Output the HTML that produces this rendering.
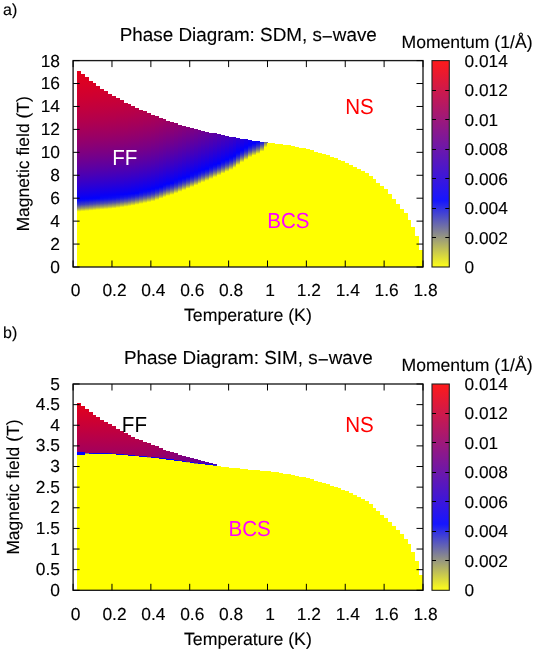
<!DOCTYPE html>
<html><head><meta charset="utf-8"><title>Phase Diagrams</title>
<style>
html,body{margin:0;padding:0;background:#fff;}
.t text{stroke:#000;stroke-width:0.12px;}
svg{display:block;font-family:"Liberation Sans",sans-serif;text-rendering:geometricPrecision;will-change:transform;}
</style></head><body>
<svg width="535" height="654" viewBox="0 0 535 654">
<rect width="535" height="654" fill="#fff"/>
<defs><linearGradient id="cbg" x1="0" y1="1" x2="0" y2="0"><stop offset="0" stop-color="#ffff18"/><stop offset="0.3214" stop-color="#1616ff"/><stop offset="1" stop-color="#ff1a1a"/></linearGradient><linearGradient id="a1" x1="0" y1="0" x2="0" y2="1"><stop offset="0.000" stop-color="#e5001a"/><stop offset="0.048" stop-color="#e0001f"/><stop offset="0.095" stop-color="#da0025"/><stop offset="0.143" stop-color="#d4002b"/><stop offset="0.190" stop-color="#ce0031"/><stop offset="0.238" stop-color="#c70038"/><stop offset="0.286" stop-color="#bf0040"/><stop offset="0.333" stop-color="#b70048"/><stop offset="0.381" stop-color="#ae0051"/><stop offset="0.429" stop-color="#a5005a"/><stop offset="0.476" stop-color="#9a0065"/><stop offset="0.524" stop-color="#8f0070"/><stop offset="0.571" stop-color="#82007d"/><stop offset="0.619" stop-color="#75008a"/><stop offset="0.667" stop-color="#660099"/><stop offset="0.714" stop-color="#5600a9"/><stop offset="0.762" stop-color="#4500ba"/><stop offset="0.810" stop-color="#3200cd"/><stop offset="0.840" stop-color="#2500da"/><stop offset="0.857" stop-color="#1d00e2"/><stop offset="0.880" stop-color="#1300ec"/><stop offset="0.905" stop-color="#0700f8"/><stop offset="0.920" stop-color="#0707f8"/><stop offset="0.950" stop-color="#3b3bc4"/><stop offset="0.952" stop-color="#4141be"/><stop offset="0.980" stop-color="#a0a05f"/><stop offset="1.000" stop-color="#ffff00"/></linearGradient><linearGradient id="a2" x1="0" y1="0" x2="0" y2="1"><stop offset="0.000" stop-color="#e2001d"/><stop offset="0.048" stop-color="#dd0022"/><stop offset="0.095" stop-color="#d70028"/><stop offset="0.143" stop-color="#d1002e"/><stop offset="0.190" stop-color="#cb0034"/><stop offset="0.238" stop-color="#c4003b"/><stop offset="0.286" stop-color="#bc0043"/><stop offset="0.333" stop-color="#b4004b"/><stop offset="0.381" stop-color="#ab0054"/><stop offset="0.429" stop-color="#a1005e"/><stop offset="0.476" stop-color="#970068"/><stop offset="0.524" stop-color="#8b0074"/><stop offset="0.571" stop-color="#7f0080"/><stop offset="0.619" stop-color="#71008e"/><stop offset="0.667" stop-color="#63009c"/><stop offset="0.714" stop-color="#5300ac"/><stop offset="0.762" stop-color="#4200bd"/><stop offset="0.810" stop-color="#2f00d0"/><stop offset="0.840" stop-color="#2300dc"/><stop offset="0.857" stop-color="#1b00e4"/><stop offset="0.880" stop-color="#1100ee"/><stop offset="0.905" stop-color="#0500fa"/><stop offset="0.920" stop-color="#0909f6"/><stop offset="0.950" stop-color="#3e3ec1"/><stop offset="0.952" stop-color="#4545ba"/><stop offset="0.980" stop-color="#a2a25d"/><stop offset="1.000" stop-color="#ffff00"/></linearGradient><linearGradient id="a3" x1="0" y1="0" x2="0" y2="1"><stop offset="0.000" stop-color="#df0020"/><stop offset="0.048" stop-color="#da0025"/><stop offset="0.095" stop-color="#d4002b"/><stop offset="0.143" stop-color="#ce0031"/><stop offset="0.190" stop-color="#c80037"/><stop offset="0.238" stop-color="#c1003e"/><stop offset="0.286" stop-color="#b90046"/><stop offset="0.333" stop-color="#b1004e"/><stop offset="0.381" stop-color="#a80057"/><stop offset="0.429" stop-color="#9e0061"/><stop offset="0.476" stop-color="#93006c"/><stop offset="0.524" stop-color="#880077"/><stop offset="0.571" stop-color="#7c0083"/><stop offset="0.619" stop-color="#6f0090"/><stop offset="0.667" stop-color="#60009f"/><stop offset="0.714" stop-color="#5100ae"/><stop offset="0.762" stop-color="#4000bf"/><stop offset="0.810" stop-color="#2d00d2"/><stop offset="0.840" stop-color="#2100de"/><stop offset="0.857" stop-color="#1a00e5"/><stop offset="0.880" stop-color="#1000ef"/><stop offset="0.905" stop-color="#0400fb"/><stop offset="0.920" stop-color="#0b0bf4"/><stop offset="0.950" stop-color="#4242bd"/><stop offset="0.952" stop-color="#4848b7"/><stop offset="0.980" stop-color="#a4a45b"/><stop offset="1.000" stop-color="#ffff00"/></linearGradient><linearGradient id="a4" x1="0" y1="0" x2="0" y2="1"><stop offset="0.000" stop-color="#dc0023"/><stop offset="0.048" stop-color="#d70028"/><stop offset="0.095" stop-color="#d1002e"/><stop offset="0.143" stop-color="#cb0034"/><stop offset="0.190" stop-color="#c4003b"/><stop offset="0.238" stop-color="#bd0042"/><stop offset="0.286" stop-color="#b5004a"/><stop offset="0.333" stop-color="#ad0052"/><stop offset="0.381" stop-color="#a4005b"/><stop offset="0.429" stop-color="#9a0065"/><stop offset="0.476" stop-color="#90006f"/><stop offset="0.524" stop-color="#85007a"/><stop offset="0.571" stop-color="#780087"/><stop offset="0.619" stop-color="#6b0094"/><stop offset="0.667" stop-color="#5d00a2"/><stop offset="0.714" stop-color="#4e00b1"/><stop offset="0.762" stop-color="#3d00c2"/><stop offset="0.810" stop-color="#2b00d4"/><stop offset="0.840" stop-color="#1f00e0"/><stop offset="0.857" stop-color="#1800e7"/><stop offset="0.880" stop-color="#0e00f1"/><stop offset="0.905" stop-color="#0300fc"/><stop offset="0.920" stop-color="#0e0ef1"/><stop offset="0.950" stop-color="#4646b9"/><stop offset="0.952" stop-color="#4c4cb3"/><stop offset="0.980" stop-color="#a7a758"/><stop offset="1.000" stop-color="#ffff00"/></linearGradient><linearGradient id="a5" x1="0" y1="0" x2="0" y2="1"><stop offset="0.000" stop-color="#da0025"/><stop offset="0.048" stop-color="#d4002b"/><stop offset="0.095" stop-color="#ce0031"/><stop offset="0.143" stop-color="#c80037"/><stop offset="0.190" stop-color="#c2003d"/><stop offset="0.238" stop-color="#ba0045"/><stop offset="0.286" stop-color="#b3004c"/><stop offset="0.333" stop-color="#aa0055"/><stop offset="0.381" stop-color="#a1005e"/><stop offset="0.429" stop-color="#980067"/><stop offset="0.476" stop-color="#8d0072"/><stop offset="0.524" stop-color="#82007d"/><stop offset="0.571" stop-color="#760089"/><stop offset="0.619" stop-color="#690096"/><stop offset="0.667" stop-color="#5b00a4"/><stop offset="0.714" stop-color="#4c00b3"/><stop offset="0.762" stop-color="#3b00c4"/><stop offset="0.810" stop-color="#2a00d5"/><stop offset="0.840" stop-color="#1e00e1"/><stop offset="0.857" stop-color="#1700e8"/><stop offset="0.880" stop-color="#0d00f2"/><stop offset="0.905" stop-color="#0200fd"/><stop offset="0.920" stop-color="#1010ef"/><stop offset="0.950" stop-color="#4848b7"/><stop offset="0.952" stop-color="#4e4eb1"/><stop offset="0.980" stop-color="#a9a956"/><stop offset="1.000" stop-color="#ffff00"/></linearGradient><linearGradient id="a6" x1="0" y1="0" x2="0" y2="1"><stop offset="0.000" stop-color="#d70028"/><stop offset="0.048" stop-color="#d1002e"/><stop offset="0.095" stop-color="#cc0033"/><stop offset="0.143" stop-color="#c5003a"/><stop offset="0.190" stop-color="#bf0040"/><stop offset="0.238" stop-color="#b70048"/><stop offset="0.286" stop-color="#b0004f"/><stop offset="0.333" stop-color="#a70058"/><stop offset="0.381" stop-color="#9e0061"/><stop offset="0.429" stop-color="#95006a"/><stop offset="0.476" stop-color="#8a0075"/><stop offset="0.524" stop-color="#7f0080"/><stop offset="0.571" stop-color="#73008c"/><stop offset="0.619" stop-color="#660099"/><stop offset="0.667" stop-color="#5800a7"/><stop offset="0.714" stop-color="#4900b6"/><stop offset="0.762" stop-color="#3900c6"/><stop offset="0.810" stop-color="#2800d7"/><stop offset="0.840" stop-color="#1c00e3"/><stop offset="0.857" stop-color="#1500ea"/><stop offset="0.880" stop-color="#0c00f3"/><stop offset="0.905" stop-color="#0100fe"/><stop offset="0.920" stop-color="#1313ec"/><stop offset="0.950" stop-color="#4c4cb3"/><stop offset="0.952" stop-color="#5252ad"/><stop offset="0.980" stop-color="#abab54"/><stop offset="1.000" stop-color="#ffff00"/></linearGradient><linearGradient id="a7" x1="0" y1="0" x2="0" y2="1"><stop offset="0.000" stop-color="#d4002b"/><stop offset="0.048" stop-color="#cf0030"/><stop offset="0.095" stop-color="#c90036"/><stop offset="0.143" stop-color="#c2003d"/><stop offset="0.190" stop-color="#bc0043"/><stop offset="0.238" stop-color="#b4004b"/><stop offset="0.286" stop-color="#ad0052"/><stop offset="0.333" stop-color="#a4005b"/><stop offset="0.381" stop-color="#9b0064"/><stop offset="0.429" stop-color="#92006d"/><stop offset="0.476" stop-color="#870078"/><stop offset="0.524" stop-color="#7c0083"/><stop offset="0.571" stop-color="#70008f"/><stop offset="0.619" stop-color="#63009c"/><stop offset="0.667" stop-color="#5600a9"/><stop offset="0.714" stop-color="#4700b8"/><stop offset="0.762" stop-color="#3700c8"/><stop offset="0.810" stop-color="#2600d9"/><stop offset="0.840" stop-color="#1a00e5"/><stop offset="0.857" stop-color="#1400eb"/><stop offset="0.880" stop-color="#0a00f5"/><stop offset="0.905" stop-color="#0606f9"/><stop offset="0.920" stop-color="#1515ea"/><stop offset="0.950" stop-color="#4f4fb0"/><stop offset="0.952" stop-color="#5555aa"/><stop offset="0.980" stop-color="#acac53"/><stop offset="1.000" stop-color="#ffff00"/></linearGradient><linearGradient id="a8" x1="0" y1="0" x2="0" y2="1"><stop offset="0.000" stop-color="#d2002d"/><stop offset="0.048" stop-color="#cc0033"/><stop offset="0.095" stop-color="#c60039"/><stop offset="0.143" stop-color="#c0003f"/><stop offset="0.190" stop-color="#b90046"/><stop offset="0.238" stop-color="#b2004d"/><stop offset="0.286" stop-color="#aa0055"/><stop offset="0.333" stop-color="#a2005d"/><stop offset="0.381" stop-color="#990066"/><stop offset="0.429" stop-color="#8f0070"/><stop offset="0.476" stop-color="#85007a"/><stop offset="0.524" stop-color="#7a0085"/><stop offset="0.571" stop-color="#6e0091"/><stop offset="0.619" stop-color="#61009e"/><stop offset="0.667" stop-color="#5400ab"/><stop offset="0.714" stop-color="#4500ba"/><stop offset="0.762" stop-color="#3500ca"/><stop offset="0.810" stop-color="#2400db"/><stop offset="0.840" stop-color="#1900e6"/><stop offset="0.857" stop-color="#1200ed"/><stop offset="0.880" stop-color="#0900f6"/><stop offset="0.905" stop-color="#0707f8"/><stop offset="0.920" stop-color="#1818e7"/><stop offset="0.950" stop-color="#5151ae"/><stop offset="0.952" stop-color="#5757a8"/><stop offset="0.980" stop-color="#aeae51"/><stop offset="1.000" stop-color="#ffff00"/></linearGradient><linearGradient id="a9" x1="0" y1="0" x2="0" y2="1"><stop offset="0.000" stop-color="#cf0030"/><stop offset="0.048" stop-color="#c90036"/><stop offset="0.095" stop-color="#c4003b"/><stop offset="0.143" stop-color="#bd0042"/><stop offset="0.190" stop-color="#b60049"/><stop offset="0.238" stop-color="#af0050"/><stop offset="0.286" stop-color="#a70058"/><stop offset="0.333" stop-color="#9f0060"/><stop offset="0.381" stop-color="#960069"/><stop offset="0.429" stop-color="#8c0073"/><stop offset="0.476" stop-color="#82007d"/><stop offset="0.524" stop-color="#770088"/><stop offset="0.571" stop-color="#6b0094"/><stop offset="0.619" stop-color="#5f00a0"/><stop offset="0.667" stop-color="#5100ae"/><stop offset="0.714" stop-color="#4300bc"/><stop offset="0.762" stop-color="#3300cc"/><stop offset="0.810" stop-color="#2300dc"/><stop offset="0.840" stop-color="#1800e7"/><stop offset="0.857" stop-color="#1100ee"/><stop offset="0.880" stop-color="#0800f7"/><stop offset="0.905" stop-color="#0909f6"/><stop offset="0.920" stop-color="#1a1ae5"/><stop offset="0.950" stop-color="#5454ab"/><stop offset="0.952" stop-color="#5a5aa5"/><stop offset="0.980" stop-color="#b0b04f"/><stop offset="1.000" stop-color="#ffff00"/></linearGradient><linearGradient id="a10" x1="0" y1="0" x2="0" y2="1"><stop offset="0.000" stop-color="#cc0033"/><stop offset="0.048" stop-color="#c70038"/><stop offset="0.095" stop-color="#c1003e"/><stop offset="0.143" stop-color="#ba0045"/><stop offset="0.190" stop-color="#b4004b"/><stop offset="0.238" stop-color="#ac0053"/><stop offset="0.286" stop-color="#a4005b"/><stop offset="0.333" stop-color="#9c0063"/><stop offset="0.381" stop-color="#93006c"/><stop offset="0.429" stop-color="#8a0075"/><stop offset="0.476" stop-color="#7f0080"/><stop offset="0.524" stop-color="#74008b"/><stop offset="0.571" stop-color="#690096"/><stop offset="0.619" stop-color="#5c00a3"/><stop offset="0.667" stop-color="#4f00b0"/><stop offset="0.714" stop-color="#4100be"/><stop offset="0.762" stop-color="#3200cd"/><stop offset="0.810" stop-color="#2100de"/><stop offset="0.840" stop-color="#1600e9"/><stop offset="0.857" stop-color="#1000ef"/><stop offset="0.880" stop-color="#0700f8"/><stop offset="0.905" stop-color="#0b0bf4"/><stop offset="0.920" stop-color="#1d1de2"/><stop offset="0.950" stop-color="#5757a8"/><stop offset="0.952" stop-color="#5d5da2"/><stop offset="0.980" stop-color="#b1b14e"/><stop offset="1.000" stop-color="#ffff00"/></linearGradient><linearGradient id="a11" x1="0" y1="0" x2="0" y2="1"><stop offset="0.000" stop-color="#c90036"/><stop offset="0.048" stop-color="#c4003b"/><stop offset="0.095" stop-color="#be0041"/><stop offset="0.143" stop-color="#b70048"/><stop offset="0.190" stop-color="#b0004f"/><stop offset="0.238" stop-color="#a90056"/><stop offset="0.286" stop-color="#a1005e"/><stop offset="0.333" stop-color="#990066"/><stop offset="0.381" stop-color="#90006f"/><stop offset="0.429" stop-color="#870078"/><stop offset="0.476" stop-color="#7c0083"/><stop offset="0.524" stop-color="#72008d"/><stop offset="0.571" stop-color="#660099"/><stop offset="0.619" stop-color="#5a00a5"/><stop offset="0.667" stop-color="#4d00b2"/><stop offset="0.714" stop-color="#3e00c1"/><stop offset="0.762" stop-color="#3000cf"/><stop offset="0.810" stop-color="#2000df"/><stop offset="0.840" stop-color="#1500ea"/><stop offset="0.857" stop-color="#0e00f1"/><stop offset="0.880" stop-color="#0600f9"/><stop offset="0.905" stop-color="#0d0df2"/><stop offset="0.920" stop-color="#2020df"/><stop offset="0.950" stop-color="#5a5aa5"/><stop offset="0.952" stop-color="#60609f"/><stop offset="0.980" stop-color="#b3b34c"/><stop offset="1.000" stop-color="#ffff00"/></linearGradient><linearGradient id="a12" x1="0" y1="0" x2="0" y2="1"><stop offset="0.000" stop-color="#c60039"/><stop offset="0.048" stop-color="#c1003e"/><stop offset="0.095" stop-color="#bb0044"/><stop offset="0.143" stop-color="#b4004b"/><stop offset="0.190" stop-color="#ad0052"/><stop offset="0.238" stop-color="#a60059"/><stop offset="0.286" stop-color="#9e0061"/><stop offset="0.333" stop-color="#960069"/><stop offset="0.381" stop-color="#8d0072"/><stop offset="0.429" stop-color="#84007b"/><stop offset="0.476" stop-color="#790086"/><stop offset="0.524" stop-color="#6f0090"/><stop offset="0.571" stop-color="#63009c"/><stop offset="0.619" stop-color="#5700a8"/><stop offset="0.667" stop-color="#4a00b5"/><stop offset="0.714" stop-color="#3c00c3"/><stop offset="0.762" stop-color="#2e00d1"/><stop offset="0.810" stop-color="#1e00e1"/><stop offset="0.840" stop-color="#1300ec"/><stop offset="0.857" stop-color="#0d00f2"/><stop offset="0.880" stop-color="#0500fa"/><stop offset="0.905" stop-color="#1010ef"/><stop offset="0.920" stop-color="#2323dc"/><stop offset="0.950" stop-color="#5d5da2"/><stop offset="0.952" stop-color="#63639c"/><stop offset="0.980" stop-color="#b5b54a"/><stop offset="1.000" stop-color="#ffff00"/></linearGradient><linearGradient id="a13" x1="0" y1="0" x2="0" y2="1"><stop offset="0.000" stop-color="#c3003c"/><stop offset="0.048" stop-color="#bd0042"/><stop offset="0.095" stop-color="#b70048"/><stop offset="0.143" stop-color="#b1004e"/><stop offset="0.190" stop-color="#aa0055"/><stop offset="0.238" stop-color="#a3005c"/><stop offset="0.286" stop-color="#9b0064"/><stop offset="0.333" stop-color="#92006d"/><stop offset="0.381" stop-color="#8a0075"/><stop offset="0.429" stop-color="#80007f"/><stop offset="0.476" stop-color="#760089"/><stop offset="0.524" stop-color="#6c0093"/><stop offset="0.571" stop-color="#60009f"/><stop offset="0.619" stop-color="#5400ab"/><stop offset="0.667" stop-color="#4700b8"/><stop offset="0.714" stop-color="#3a00c5"/><stop offset="0.762" stop-color="#2b00d4"/><stop offset="0.810" stop-color="#1c00e3"/><stop offset="0.840" stop-color="#1200ed"/><stop offset="0.857" stop-color="#0c00f3"/><stop offset="0.880" stop-color="#0300fc"/><stop offset="0.905" stop-color="#1313ec"/><stop offset="0.920" stop-color="#2626d9"/><stop offset="0.950" stop-color="#61619e"/><stop offset="0.952" stop-color="#676798"/><stop offset="0.980" stop-color="#b7b748"/><stop offset="1.000" stop-color="#ffff00"/></linearGradient><linearGradient id="a14" x1="0" y1="0" x2="0" y2="1"><stop offset="0.000" stop-color="#c1003e"/><stop offset="0.048" stop-color="#bb0044"/><stop offset="0.095" stop-color="#b5004a"/><stop offset="0.143" stop-color="#ae0051"/><stop offset="0.190" stop-color="#a70058"/><stop offset="0.238" stop-color="#a0005f"/><stop offset="0.286" stop-color="#980067"/><stop offset="0.333" stop-color="#90006f"/><stop offset="0.381" stop-color="#870078"/><stop offset="0.429" stop-color="#7e0081"/><stop offset="0.476" stop-color="#74008b"/><stop offset="0.524" stop-color="#690096"/><stop offset="0.571" stop-color="#5e00a1"/><stop offset="0.619" stop-color="#5200ad"/><stop offset="0.667" stop-color="#4600b9"/><stop offset="0.714" stop-color="#3800c7"/><stop offset="0.762" stop-color="#2a00d5"/><stop offset="0.810" stop-color="#1b00e4"/><stop offset="0.840" stop-color="#1100ee"/><stop offset="0.857" stop-color="#0b00f4"/><stop offset="0.880" stop-color="#0300fc"/><stop offset="0.905" stop-color="#1515ea"/><stop offset="0.920" stop-color="#2929d6"/><stop offset="0.950" stop-color="#63639c"/><stop offset="0.952" stop-color="#696996"/><stop offset="0.980" stop-color="#b8b847"/><stop offset="1.000" stop-color="#ffff00"/></linearGradient><linearGradient id="a15" x1="0" y1="0" x2="0" y2="1"><stop offset="0.000" stop-color="#be0041"/><stop offset="0.048" stop-color="#b80047"/><stop offset="0.095" stop-color="#b2004d"/><stop offset="0.143" stop-color="#ab0054"/><stop offset="0.190" stop-color="#a4005b"/><stop offset="0.238" stop-color="#9d0062"/><stop offset="0.286" stop-color="#95006a"/><stop offset="0.333" stop-color="#8d0072"/><stop offset="0.381" stop-color="#84007b"/><stop offset="0.429" stop-color="#7b0084"/><stop offset="0.476" stop-color="#71008e"/><stop offset="0.524" stop-color="#670098"/><stop offset="0.571" stop-color="#5c00a3"/><stop offset="0.619" stop-color="#5000af"/><stop offset="0.667" stop-color="#4300bc"/><stop offset="0.714" stop-color="#3600c9"/><stop offset="0.762" stop-color="#2800d7"/><stop offset="0.810" stop-color="#1900e6"/><stop offset="0.840" stop-color="#0f00f0"/><stop offset="0.857" stop-color="#0900f6"/><stop offset="0.880" stop-color="#0200fd"/><stop offset="0.905" stop-color="#1717e8"/><stop offset="0.920" stop-color="#2c2cd3"/><stop offset="0.950" stop-color="#666699"/><stop offset="0.952" stop-color="#6c6c93"/><stop offset="0.980" stop-color="#baba45"/><stop offset="1.000" stop-color="#ffff00"/></linearGradient><linearGradient id="a16" x1="0" y1="0" x2="0" y2="1"><stop offset="0.000" stop-color="#ba0045"/><stop offset="0.048" stop-color="#b4004b"/><stop offset="0.095" stop-color="#ae0051"/><stop offset="0.143" stop-color="#a80057"/><stop offset="0.190" stop-color="#a1005e"/><stop offset="0.238" stop-color="#990066"/><stop offset="0.286" stop-color="#92006d"/><stop offset="0.333" stop-color="#8a0075"/><stop offset="0.381" stop-color="#81007e"/><stop offset="0.429" stop-color="#780087"/><stop offset="0.476" stop-color="#6e0091"/><stop offset="0.524" stop-color="#63009c"/><stop offset="0.571" stop-color="#5900a6"/><stop offset="0.619" stop-color="#4d00b2"/><stop offset="0.667" stop-color="#4100be"/><stop offset="0.714" stop-color="#3400cb"/><stop offset="0.762" stop-color="#2600d9"/><stop offset="0.810" stop-color="#1700e8"/><stop offset="0.840" stop-color="#0e00f1"/><stop offset="0.857" stop-color="#0800f7"/><stop offset="0.880" stop-color="#0000ff"/><stop offset="0.905" stop-color="#1a1ae5"/><stop offset="0.920" stop-color="#2f2fd0"/><stop offset="0.950" stop-color="#6a6a95"/><stop offset="0.952" stop-color="#6f6f90"/><stop offset="0.980" stop-color="#bcbc43"/><stop offset="1.000" stop-color="#ffff00"/></linearGradient><linearGradient id="a17" x1="0" y1="0" x2="0" y2="1"><stop offset="0.000" stop-color="#b70048"/><stop offset="0.048" stop-color="#b1004e"/><stop offset="0.095" stop-color="#ab0054"/><stop offset="0.143" stop-color="#a5005a"/><stop offset="0.190" stop-color="#9e0061"/><stop offset="0.238" stop-color="#960069"/><stop offset="0.286" stop-color="#8f0070"/><stop offset="0.333" stop-color="#860079"/><stop offset="0.381" stop-color="#7e0081"/><stop offset="0.429" stop-color="#75008a"/><stop offset="0.476" stop-color="#6b0094"/><stop offset="0.524" stop-color="#61009e"/><stop offset="0.571" stop-color="#5600a9"/><stop offset="0.619" stop-color="#4b00b4"/><stop offset="0.667" stop-color="#3e00c1"/><stop offset="0.714" stop-color="#3200cd"/><stop offset="0.762" stop-color="#2400db"/><stop offset="0.810" stop-color="#1600e9"/><stop offset="0.840" stop-color="#0c00f3"/><stop offset="0.857" stop-color="#0700f8"/><stop offset="0.880" stop-color="#0707f8"/><stop offset="0.905" stop-color="#1d1de2"/><stop offset="0.920" stop-color="#3333cc"/><stop offset="0.950" stop-color="#6d6d92"/><stop offset="0.952" stop-color="#72728d"/><stop offset="0.980" stop-color="#bdbd42"/><stop offset="1.000" stop-color="#ffff00"/></linearGradient><linearGradient id="a18" x1="0" y1="0" x2="0" y2="1"><stop offset="0.000" stop-color="#b4004b"/><stop offset="0.048" stop-color="#ae0051"/><stop offset="0.095" stop-color="#a80057"/><stop offset="0.143" stop-color="#a1005e"/><stop offset="0.190" stop-color="#9a0065"/><stop offset="0.238" stop-color="#93006c"/><stop offset="0.286" stop-color="#8b0074"/><stop offset="0.333" stop-color="#83007c"/><stop offset="0.381" stop-color="#7b0084"/><stop offset="0.429" stop-color="#72008d"/><stop offset="0.476" stop-color="#680097"/><stop offset="0.524" stop-color="#5e00a1"/><stop offset="0.571" stop-color="#5300ac"/><stop offset="0.619" stop-color="#4800b7"/><stop offset="0.667" stop-color="#3c00c3"/><stop offset="0.714" stop-color="#3000cf"/><stop offset="0.762" stop-color="#2200dd"/><stop offset="0.810" stop-color="#1400eb"/><stop offset="0.840" stop-color="#0b00f4"/><stop offset="0.857" stop-color="#0600f9"/><stop offset="0.880" stop-color="#0909f6"/><stop offset="0.905" stop-color="#2121de"/><stop offset="0.920" stop-color="#3636c9"/><stop offset="0.950" stop-color="#70708f"/><stop offset="0.952" stop-color="#75758a"/><stop offset="0.980" stop-color="#bfbf40"/><stop offset="1.000" stop-color="#ffff00"/></linearGradient><linearGradient id="a19" x1="0" y1="0" x2="0" y2="1"><stop offset="0.000" stop-color="#b1004e"/><stop offset="0.048" stop-color="#ab0054"/><stop offset="0.095" stop-color="#a5005a"/><stop offset="0.143" stop-color="#9e0061"/><stop offset="0.190" stop-color="#970068"/><stop offset="0.238" stop-color="#90006f"/><stop offset="0.286" stop-color="#880077"/><stop offset="0.333" stop-color="#80007f"/><stop offset="0.381" stop-color="#780087"/><stop offset="0.429" stop-color="#6f0090"/><stop offset="0.476" stop-color="#65009a"/><stop offset="0.524" stop-color="#5b00a4"/><stop offset="0.571" stop-color="#5100ae"/><stop offset="0.619" stop-color="#4500ba"/><stop offset="0.667" stop-color="#3a00c5"/><stop offset="0.714" stop-color="#2d00d2"/><stop offset="0.762" stop-color="#2000df"/><stop offset="0.810" stop-color="#1300ec"/><stop offset="0.840" stop-color="#0a00f5"/><stop offset="0.857" stop-color="#0400fb"/><stop offset="0.880" stop-color="#0b0bf4"/><stop offset="0.905" stop-color="#2424db"/><stop offset="0.920" stop-color="#3939c6"/><stop offset="0.950" stop-color="#73738c"/><stop offset="0.952" stop-color="#787887"/><stop offset="0.980" stop-color="#c0c03f"/><stop offset="1.000" stop-color="#ffff00"/></linearGradient><linearGradient id="a20" x1="0" y1="0" x2="0" y2="1"><stop offset="0.000" stop-color="#ad0052"/><stop offset="0.048" stop-color="#a70058"/><stop offset="0.095" stop-color="#a1005e"/><stop offset="0.143" stop-color="#9b0064"/><stop offset="0.190" stop-color="#94006b"/><stop offset="0.238" stop-color="#8c0073"/><stop offset="0.286" stop-color="#85007a"/><stop offset="0.333" stop-color="#7d0082"/><stop offset="0.381" stop-color="#74008b"/><stop offset="0.429" stop-color="#6b0094"/><stop offset="0.476" stop-color="#62009d"/><stop offset="0.524" stop-color="#5800a7"/><stop offset="0.571" stop-color="#4e00b1"/><stop offset="0.619" stop-color="#4300bc"/><stop offset="0.667" stop-color="#3700c8"/><stop offset="0.714" stop-color="#2b00d4"/><stop offset="0.762" stop-color="#1f00e0"/><stop offset="0.810" stop-color="#1100ee"/><stop offset="0.840" stop-color="#0800f7"/><stop offset="0.857" stop-color="#0300fc"/><stop offset="0.880" stop-color="#0e0ef1"/><stop offset="0.905" stop-color="#2727d8"/><stop offset="0.920" stop-color="#3d3dc2"/><stop offset="0.950" stop-color="#767689"/><stop offset="0.952" stop-color="#7c7c83"/><stop offset="0.980" stop-color="#c2c23d"/><stop offset="1.000" stop-color="#ffff00"/></linearGradient><linearGradient id="a21" x1="0" y1="0" x2="0" y2="1"><stop offset="0.000" stop-color="#a90056"/><stop offset="0.048" stop-color="#a3005c"/><stop offset="0.095" stop-color="#9d0062"/><stop offset="0.143" stop-color="#960069"/><stop offset="0.190" stop-color="#90006f"/><stop offset="0.238" stop-color="#880077"/><stop offset="0.286" stop-color="#81007e"/><stop offset="0.333" stop-color="#790086"/><stop offset="0.381" stop-color="#71008e"/><stop offset="0.429" stop-color="#680097"/><stop offset="0.476" stop-color="#5f00a0"/><stop offset="0.524" stop-color="#5500aa"/><stop offset="0.571" stop-color="#4b00b4"/><stop offset="0.619" stop-color="#4000bf"/><stop offset="0.667" stop-color="#3500ca"/><stop offset="0.714" stop-color="#2900d6"/><stop offset="0.762" stop-color="#1c00e3"/><stop offset="0.810" stop-color="#0f00f0"/><stop offset="0.840" stop-color="#0700f8"/><stop offset="0.857" stop-color="#0200fd"/><stop offset="0.880" stop-color="#1111ee"/><stop offset="0.905" stop-color="#2b2bd4"/><stop offset="0.920" stop-color="#4141be"/><stop offset="0.950" stop-color="#7a7a85"/><stop offset="0.952" stop-color="#7f7f80"/><stop offset="0.980" stop-color="#c4c43b"/><stop offset="1.000" stop-color="#ffff00"/></linearGradient><linearGradient id="a22" x1="0" y1="0" x2="0" y2="1"><stop offset="0.000" stop-color="#a5005a"/><stop offset="0.048" stop-color="#9f0060"/><stop offset="0.095" stop-color="#990066"/><stop offset="0.143" stop-color="#92006d"/><stop offset="0.190" stop-color="#8b0074"/><stop offset="0.238" stop-color="#84007b"/><stop offset="0.286" stop-color="#7d0082"/><stop offset="0.333" stop-color="#75008a"/><stop offset="0.381" stop-color="#6d0092"/><stop offset="0.429" stop-color="#64009b"/><stop offset="0.476" stop-color="#5b00a4"/><stop offset="0.524" stop-color="#5100ae"/><stop offset="0.571" stop-color="#4700b8"/><stop offset="0.619" stop-color="#3d00c2"/><stop offset="0.667" stop-color="#3200cd"/><stop offset="0.714" stop-color="#2600d9"/><stop offset="0.762" stop-color="#1a00e5"/><stop offset="0.810" stop-color="#0d00f2"/><stop offset="0.840" stop-color="#0500fa"/><stop offset="0.857" stop-color="#0000ff"/><stop offset="0.880" stop-color="#1515ea"/><stop offset="0.905" stop-color="#3030cf"/><stop offset="0.920" stop-color="#4646b9"/><stop offset="0.950" stop-color="#7e7e81"/><stop offset="0.952" stop-color="#83837c"/><stop offset="0.980" stop-color="#c6c639"/><stop offset="1.000" stop-color="#ffff00"/></linearGradient><linearGradient id="a23" x1="0" y1="0" x2="0" y2="1"><stop offset="0.000" stop-color="#a0005f"/><stop offset="0.048" stop-color="#9b0064"/><stop offset="0.095" stop-color="#94006b"/><stop offset="0.143" stop-color="#8e0071"/><stop offset="0.190" stop-color="#870078"/><stop offset="0.238" stop-color="#80007f"/><stop offset="0.286" stop-color="#790086"/><stop offset="0.333" stop-color="#71008e"/><stop offset="0.381" stop-color="#690096"/><stop offset="0.429" stop-color="#60009f"/><stop offset="0.476" stop-color="#5700a8"/><stop offset="0.524" stop-color="#4e00b1"/><stop offset="0.571" stop-color="#4400bb"/><stop offset="0.619" stop-color="#3a00c5"/><stop offset="0.667" stop-color="#2f00d0"/><stop offset="0.714" stop-color="#2400db"/><stop offset="0.762" stop-color="#1800e7"/><stop offset="0.810" stop-color="#0c00f3"/><stop offset="0.840" stop-color="#0300fc"/><stop offset="0.857" stop-color="#0808f7"/><stop offset="0.880" stop-color="#1919e6"/><stop offset="0.905" stop-color="#3434cb"/><stop offset="0.920" stop-color="#4b4bb4"/><stop offset="0.950" stop-color="#82827d"/><stop offset="0.952" stop-color="#878778"/><stop offset="0.980" stop-color="#c8c837"/><stop offset="1.000" stop-color="#ffff00"/></linearGradient><linearGradient id="a24" x1="0" y1="0" x2="0" y2="1"><stop offset="0.000" stop-color="#9c0063"/><stop offset="0.048" stop-color="#960069"/><stop offset="0.095" stop-color="#90006f"/><stop offset="0.143" stop-color="#8a0075"/><stop offset="0.190" stop-color="#83007c"/><stop offset="0.238" stop-color="#7c0083"/><stop offset="0.286" stop-color="#75008a"/><stop offset="0.333" stop-color="#6d0092"/><stop offset="0.381" stop-color="#65009a"/><stop offset="0.429" stop-color="#5c00a3"/><stop offset="0.476" stop-color="#5400ab"/><stop offset="0.524" stop-color="#4a00b5"/><stop offset="0.571" stop-color="#4100be"/><stop offset="0.619" stop-color="#3700c8"/><stop offset="0.667" stop-color="#2c00d3"/><stop offset="0.714" stop-color="#2100de"/><stop offset="0.762" stop-color="#1600e9"/><stop offset="0.810" stop-color="#0a00f5"/><stop offset="0.840" stop-color="#0200fd"/><stop offset="0.857" stop-color="#0b0bf4"/><stop offset="0.880" stop-color="#1d1de2"/><stop offset="0.905" stop-color="#3939c6"/><stop offset="0.920" stop-color="#4f4fb0"/><stop offset="0.950" stop-color="#85857a"/><stop offset="0.952" stop-color="#8a8a75"/><stop offset="0.980" stop-color="#caca35"/><stop offset="1.000" stop-color="#ffff00"/></linearGradient><linearGradient id="a25" x1="0" y1="0" x2="0" y2="1"><stop offset="0.000" stop-color="#980067"/><stop offset="0.048" stop-color="#92006d"/><stop offset="0.095" stop-color="#8c0073"/><stop offset="0.143" stop-color="#860079"/><stop offset="0.190" stop-color="#7f0080"/><stop offset="0.238" stop-color="#780087"/><stop offset="0.286" stop-color="#71008e"/><stop offset="0.333" stop-color="#690096"/><stop offset="0.381" stop-color="#61009e"/><stop offset="0.429" stop-color="#5900a6"/><stop offset="0.476" stop-color="#5000af"/><stop offset="0.524" stop-color="#4700b8"/><stop offset="0.571" stop-color="#3e00c1"/><stop offset="0.619" stop-color="#3400cb"/><stop offset="0.667" stop-color="#2a00d5"/><stop offset="0.714" stop-color="#1f00e0"/><stop offset="0.762" stop-color="#1400eb"/><stop offset="0.810" stop-color="#0800f7"/><stop offset="0.840" stop-color="#0000ff"/><stop offset="0.857" stop-color="#0e0ef1"/><stop offset="0.880" stop-color="#2121de"/><stop offset="0.905" stop-color="#3d3dc2"/><stop offset="0.920" stop-color="#5353ac"/><stop offset="0.950" stop-color="#898976"/><stop offset="0.952" stop-color="#8d8d72"/><stop offset="0.980" stop-color="#cbcb34"/><stop offset="1.000" stop-color="#ffff00"/></linearGradient><linearGradient id="a26" x1="0" y1="0" x2="0" y2="1"><stop offset="0.000" stop-color="#93006c"/><stop offset="0.048" stop-color="#8d0072"/><stop offset="0.095" stop-color="#870078"/><stop offset="0.143" stop-color="#81007e"/><stop offset="0.190" stop-color="#7a0085"/><stop offset="0.238" stop-color="#73008c"/><stop offset="0.286" stop-color="#6c0093"/><stop offset="0.333" stop-color="#65009a"/><stop offset="0.381" stop-color="#5d00a2"/><stop offset="0.429" stop-color="#5500aa"/><stop offset="0.476" stop-color="#4c00b3"/><stop offset="0.524" stop-color="#4300bc"/><stop offset="0.571" stop-color="#3a00c5"/><stop offset="0.619" stop-color="#3100ce"/><stop offset="0.667" stop-color="#2700d8"/><stop offset="0.714" stop-color="#1c00e3"/><stop offset="0.762" stop-color="#1200ed"/><stop offset="0.810" stop-color="#0600f9"/><stop offset="0.840" stop-color="#0808f7"/><stop offset="0.857" stop-color="#1212ed"/><stop offset="0.880" stop-color="#2626d9"/><stop offset="0.905" stop-color="#4343bc"/><stop offset="0.920" stop-color="#5959a6"/><stop offset="0.950" stop-color="#8d8d72"/><stop offset="0.952" stop-color="#92926d"/><stop offset="0.980" stop-color="#cdcd32"/><stop offset="1.000" stop-color="#ffff00"/></linearGradient><linearGradient id="a27" x1="0" y1="0" x2="0" y2="1"><stop offset="0.000" stop-color="#8e0071"/><stop offset="0.048" stop-color="#880077"/><stop offset="0.095" stop-color="#82007d"/><stop offset="0.143" stop-color="#7c0083"/><stop offset="0.190" stop-color="#75008a"/><stop offset="0.238" stop-color="#6e0091"/><stop offset="0.286" stop-color="#670098"/><stop offset="0.333" stop-color="#60009f"/><stop offset="0.381" stop-color="#5800a7"/><stop offset="0.429" stop-color="#5000af"/><stop offset="0.476" stop-color="#4800b7"/><stop offset="0.524" stop-color="#4000bf"/><stop offset="0.571" stop-color="#3700c8"/><stop offset="0.619" stop-color="#2d00d2"/><stop offset="0.667" stop-color="#2400db"/><stop offset="0.714" stop-color="#1a00e5"/><stop offset="0.762" stop-color="#0f00f0"/><stop offset="0.810" stop-color="#0400fb"/><stop offset="0.840" stop-color="#0c0cf3"/><stop offset="0.857" stop-color="#1717e8"/><stop offset="0.880" stop-color="#2b2bd4"/><stop offset="0.905" stop-color="#4848b7"/><stop offset="0.920" stop-color="#5e5ea1"/><stop offset="0.950" stop-color="#91916e"/><stop offset="0.952" stop-color="#969669"/><stop offset="0.980" stop-color="#cfcf30"/><stop offset="1.000" stop-color="#ffff00"/></linearGradient><linearGradient id="a28" x1="0" y1="0" x2="0" y2="1"><stop offset="0.000" stop-color="#890076"/><stop offset="0.048" stop-color="#83007c"/><stop offset="0.095" stop-color="#7d0082"/><stop offset="0.143" stop-color="#770088"/><stop offset="0.190" stop-color="#70008f"/><stop offset="0.238" stop-color="#6a0095"/><stop offset="0.286" stop-color="#63009c"/><stop offset="0.333" stop-color="#5c00a3"/><stop offset="0.381" stop-color="#5400ab"/><stop offset="0.429" stop-color="#4c00b3"/><stop offset="0.476" stop-color="#4400bb"/><stop offset="0.524" stop-color="#3c00c3"/><stop offset="0.571" stop-color="#3300cc"/><stop offset="0.619" stop-color="#2a00d5"/><stop offset="0.667" stop-color="#2100de"/><stop offset="0.714" stop-color="#1700e8"/><stop offset="0.762" stop-color="#0d00f2"/><stop offset="0.810" stop-color="#0200fd"/><stop offset="0.840" stop-color="#0f0ff0"/><stop offset="0.857" stop-color="#1b1be4"/><stop offset="0.880" stop-color="#3030cf"/><stop offset="0.905" stop-color="#4e4eb1"/><stop offset="0.920" stop-color="#63639c"/><stop offset="0.950" stop-color="#95956a"/><stop offset="0.952" stop-color="#999966"/><stop offset="0.980" stop-color="#d1d12e"/><stop offset="1.000" stop-color="#ffff00"/></linearGradient><linearGradient id="a29" x1="0" y1="0" x2="0" y2="1"><stop offset="0.000" stop-color="#84007b"/><stop offset="0.048" stop-color="#7e0081"/><stop offset="0.095" stop-color="#780087"/><stop offset="0.143" stop-color="#72008d"/><stop offset="0.190" stop-color="#6c0093"/><stop offset="0.238" stop-color="#65009a"/><stop offset="0.286" stop-color="#5e00a1"/><stop offset="0.333" stop-color="#5700a8"/><stop offset="0.381" stop-color="#5000af"/><stop offset="0.429" stop-color="#4800b7"/><stop offset="0.476" stop-color="#4000bf"/><stop offset="0.524" stop-color="#3800c7"/><stop offset="0.571" stop-color="#3000cf"/><stop offset="0.619" stop-color="#2700d8"/><stop offset="0.667" stop-color="#1e00e1"/><stop offset="0.714" stop-color="#1400eb"/><stop offset="0.762" stop-color="#0b00f4"/><stop offset="0.810" stop-color="#0100fe"/><stop offset="0.840" stop-color="#1414eb"/><stop offset="0.857" stop-color="#2020df"/><stop offset="0.880" stop-color="#3636c9"/><stop offset="0.905" stop-color="#5353ac"/><stop offset="0.920" stop-color="#686897"/><stop offset="0.950" stop-color="#999966"/><stop offset="0.952" stop-color="#9d9d62"/><stop offset="0.980" stop-color="#d3d32c"/><stop offset="1.000" stop-color="#ffff00"/></linearGradient><linearGradient id="a30" x1="0" y1="0" x2="0" y2="1"><stop offset="0.000" stop-color="#7e0081"/><stop offset="0.048" stop-color="#790086"/><stop offset="0.095" stop-color="#73008c"/><stop offset="0.143" stop-color="#6d0092"/><stop offset="0.190" stop-color="#670098"/><stop offset="0.238" stop-color="#60009f"/><stop offset="0.286" stop-color="#5900a6"/><stop offset="0.333" stop-color="#5300ac"/><stop offset="0.381" stop-color="#4b00b4"/><stop offset="0.429" stop-color="#4400bb"/><stop offset="0.476" stop-color="#3c00c3"/><stop offset="0.524" stop-color="#3400cb"/><stop offset="0.571" stop-color="#2c00d3"/><stop offset="0.619" stop-color="#2400db"/><stop offset="0.667" stop-color="#1b00e4"/><stop offset="0.714" stop-color="#1200ed"/><stop offset="0.762" stop-color="#0800f7"/><stop offset="0.810" stop-color="#0808f7"/><stop offset="0.840" stop-color="#1919e6"/><stop offset="0.857" stop-color="#2626d9"/><stop offset="0.880" stop-color="#3c3cc3"/><stop offset="0.905" stop-color="#5959a6"/><stop offset="0.920" stop-color="#6e6e91"/><stop offset="0.950" stop-color="#9d9d62"/><stop offset="0.952" stop-color="#a1a15e"/><stop offset="0.980" stop-color="#d5d52a"/><stop offset="1.000" stop-color="#ffff00"/></linearGradient><linearGradient id="a31" x1="0" y1="0" x2="0" y2="1"><stop offset="0.000" stop-color="#790086"/><stop offset="0.048" stop-color="#74008b"/><stop offset="0.095" stop-color="#6e0091"/><stop offset="0.143" stop-color="#680097"/><stop offset="0.190" stop-color="#62009d"/><stop offset="0.238" stop-color="#5c00a3"/><stop offset="0.286" stop-color="#5500aa"/><stop offset="0.333" stop-color="#4e00b1"/><stop offset="0.381" stop-color="#4700b8"/><stop offset="0.429" stop-color="#4000bf"/><stop offset="0.476" stop-color="#3900c6"/><stop offset="0.524" stop-color="#3100ce"/><stop offset="0.571" stop-color="#2900d6"/><stop offset="0.619" stop-color="#2100de"/><stop offset="0.667" stop-color="#1800e7"/><stop offset="0.714" stop-color="#1000ef"/><stop offset="0.762" stop-color="#0600f9"/><stop offset="0.810" stop-color="#0c0cf3"/><stop offset="0.840" stop-color="#1d1de2"/><stop offset="0.857" stop-color="#2b2bd4"/><stop offset="0.880" stop-color="#4141be"/><stop offset="0.905" stop-color="#5e5ea1"/><stop offset="0.920" stop-color="#72728d"/><stop offset="0.950" stop-color="#a1a15e"/><stop offset="0.952" stop-color="#a5a55a"/><stop offset="0.980" stop-color="#d7d728"/><stop offset="1.000" stop-color="#ffff00"/></linearGradient><linearGradient id="a32" x1="0" y1="0" x2="0" y2="1"><stop offset="0.000" stop-color="#74008b"/><stop offset="0.048" stop-color="#6f0090"/><stop offset="0.095" stop-color="#690096"/><stop offset="0.143" stop-color="#63009c"/><stop offset="0.190" stop-color="#5d00a2"/><stop offset="0.238" stop-color="#5700a8"/><stop offset="0.286" stop-color="#5100ae"/><stop offset="0.333" stop-color="#4a00b5"/><stop offset="0.381" stop-color="#4300bc"/><stop offset="0.429" stop-color="#3c00c3"/><stop offset="0.476" stop-color="#3500ca"/><stop offset="0.524" stop-color="#2e00d1"/><stop offset="0.571" stop-color="#2600d9"/><stop offset="0.619" stop-color="#1e00e1"/><stop offset="0.667" stop-color="#1600e9"/><stop offset="0.714" stop-color="#0d00f2"/><stop offset="0.762" stop-color="#0400fb"/><stop offset="0.810" stop-color="#1010ef"/><stop offset="0.840" stop-color="#2323dc"/><stop offset="0.857" stop-color="#3131ce"/><stop offset="0.880" stop-color="#4747b8"/><stop offset="0.905" stop-color="#63639c"/><stop offset="0.920" stop-color="#777788"/><stop offset="0.950" stop-color="#a4a45b"/><stop offset="0.952" stop-color="#a8a857"/><stop offset="0.980" stop-color="#d8d827"/><stop offset="1.000" stop-color="#ffff00"/></linearGradient><linearGradient id="a33" x1="0" y1="0" x2="0" y2="1"><stop offset="0.000" stop-color="#6f0090"/><stop offset="0.048" stop-color="#6a0095"/><stop offset="0.095" stop-color="#64009b"/><stop offset="0.143" stop-color="#5f00a0"/><stop offset="0.190" stop-color="#5900a6"/><stop offset="0.238" stop-color="#5300ac"/><stop offset="0.286" stop-color="#4c00b3"/><stop offset="0.333" stop-color="#4600b9"/><stop offset="0.381" stop-color="#3f00c0"/><stop offset="0.429" stop-color="#3900c6"/><stop offset="0.476" stop-color="#3100ce"/><stop offset="0.524" stop-color="#2a00d5"/><stop offset="0.571" stop-color="#2300dc"/><stop offset="0.619" stop-color="#1b00e4"/><stop offset="0.667" stop-color="#1300ec"/><stop offset="0.714" stop-color="#0b00f4"/><stop offset="0.762" stop-color="#0200fd"/><stop offset="0.810" stop-color="#1414eb"/><stop offset="0.840" stop-color="#2828d7"/><stop offset="0.857" stop-color="#3636c9"/><stop offset="0.880" stop-color="#4c4cb3"/><stop offset="0.905" stop-color="#696996"/><stop offset="0.920" stop-color="#7c7c83"/><stop offset="0.950" stop-color="#a8a857"/><stop offset="0.952" stop-color="#acac53"/><stop offset="0.980" stop-color="#dada25"/><stop offset="1.000" stop-color="#ffff00"/></linearGradient><linearGradient id="a34" x1="0" y1="0" x2="0" y2="1"><stop offset="0.000" stop-color="#6a0095"/><stop offset="0.048" stop-color="#65009a"/><stop offset="0.095" stop-color="#5f00a0"/><stop offset="0.143" stop-color="#5a00a5"/><stop offset="0.190" stop-color="#5400ab"/><stop offset="0.238" stop-color="#4e00b1"/><stop offset="0.286" stop-color="#4800b7"/><stop offset="0.333" stop-color="#4200bd"/><stop offset="0.381" stop-color="#3b00c4"/><stop offset="0.429" stop-color="#3500ca"/><stop offset="0.476" stop-color="#2e00d1"/><stop offset="0.524" stop-color="#2700d8"/><stop offset="0.571" stop-color="#2000df"/><stop offset="0.619" stop-color="#1800e7"/><stop offset="0.667" stop-color="#1000ef"/><stop offset="0.714" stop-color="#0900f6"/><stop offset="0.762" stop-color="#0000ff"/><stop offset="0.810" stop-color="#1919e6"/><stop offset="0.840" stop-color="#2e2ed1"/><stop offset="0.857" stop-color="#3c3cc3"/><stop offset="0.880" stop-color="#5252ad"/><stop offset="0.905" stop-color="#6e6e91"/><stop offset="0.920" stop-color="#81817e"/><stop offset="0.950" stop-color="#acac53"/><stop offset="0.952" stop-color="#afaf50"/><stop offset="0.980" stop-color="#dcdc23"/><stop offset="1.000" stop-color="#ffff00"/></linearGradient><linearGradient id="a35" x1="0" y1="0" x2="0" y2="1"><stop offset="0.000" stop-color="#64009b"/><stop offset="0.048" stop-color="#5f00a0"/><stop offset="0.095" stop-color="#5900a6"/><stop offset="0.143" stop-color="#5400ab"/><stop offset="0.190" stop-color="#4e00b1"/><stop offset="0.238" stop-color="#4900b6"/><stop offset="0.286" stop-color="#4300bc"/><stop offset="0.333" stop-color="#3d00c2"/><stop offset="0.381" stop-color="#3700c8"/><stop offset="0.429" stop-color="#3000cf"/><stop offset="0.476" stop-color="#2a00d5"/><stop offset="0.524" stop-color="#2300dc"/><stop offset="0.571" stop-color="#1c00e3"/><stop offset="0.619" stop-color="#1500ea"/><stop offset="0.667" stop-color="#0d00f2"/><stop offset="0.714" stop-color="#0600f9"/><stop offset="0.762" stop-color="#0909f6"/><stop offset="0.810" stop-color="#2020df"/><stop offset="0.840" stop-color="#3535ca"/><stop offset="0.857" stop-color="#4343bc"/><stop offset="0.880" stop-color="#5959a6"/><stop offset="0.905" stop-color="#75758a"/><stop offset="0.920" stop-color="#878778"/><stop offset="0.950" stop-color="#b0b04f"/><stop offset="0.952" stop-color="#b3b34c"/><stop offset="0.980" stop-color="#dddd22"/><stop offset="1.000" stop-color="#ffff00"/></linearGradient><linearGradient id="a36" x1="0" y1="0" x2="0" y2="1"><stop offset="0.000" stop-color="#5e00a1"/><stop offset="0.048" stop-color="#5900a6"/><stop offset="0.095" stop-color="#5400ab"/><stop offset="0.143" stop-color="#4e00b1"/><stop offset="0.190" stop-color="#4900b6"/><stop offset="0.238" stop-color="#4300bc"/><stop offset="0.286" stop-color="#3e00c1"/><stop offset="0.333" stop-color="#3800c7"/><stop offset="0.381" stop-color="#3200cd"/><stop offset="0.429" stop-color="#2c00d3"/><stop offset="0.476" stop-color="#2500da"/><stop offset="0.524" stop-color="#1f00e0"/><stop offset="0.571" stop-color="#1800e7"/><stop offset="0.619" stop-color="#1100ee"/><stop offset="0.667" stop-color="#0a00f5"/><stop offset="0.714" stop-color="#0300fc"/><stop offset="0.762" stop-color="#0e0ef1"/><stop offset="0.810" stop-color="#2727d8"/><stop offset="0.840" stop-color="#3c3cc3"/><stop offset="0.857" stop-color="#4b4bb4"/><stop offset="0.880" stop-color="#61619e"/><stop offset="0.905" stop-color="#7b7b84"/><stop offset="0.920" stop-color="#8d8d72"/><stop offset="0.950" stop-color="#b4b44b"/><stop offset="0.952" stop-color="#b7b748"/><stop offset="0.980" stop-color="#dfdf20"/><stop offset="1.000" stop-color="#ffff00"/></linearGradient><linearGradient id="a37" x1="0" y1="0" x2="0" y2="1"><stop offset="0.000" stop-color="#5700a8"/><stop offset="0.048" stop-color="#5200ad"/><stop offset="0.095" stop-color="#4d00b2"/><stop offset="0.143" stop-color="#4800b7"/><stop offset="0.190" stop-color="#4300bc"/><stop offset="0.238" stop-color="#3e00c1"/><stop offset="0.286" stop-color="#3800c7"/><stop offset="0.333" stop-color="#3300cc"/><stop offset="0.381" stop-color="#2d00d2"/><stop offset="0.429" stop-color="#2700d8"/><stop offset="0.476" stop-color="#2100de"/><stop offset="0.524" stop-color="#1b00e4"/><stop offset="0.571" stop-color="#1500ea"/><stop offset="0.619" stop-color="#0e00f1"/><stop offset="0.667" stop-color="#0700f8"/><stop offset="0.714" stop-color="#0100fe"/><stop offset="0.762" stop-color="#1414eb"/><stop offset="0.810" stop-color="#2e2ed1"/><stop offset="0.840" stop-color="#4444bb"/><stop offset="0.857" stop-color="#5353ac"/><stop offset="0.880" stop-color="#686897"/><stop offset="0.905" stop-color="#82827d"/><stop offset="0.920" stop-color="#93936c"/><stop offset="0.950" stop-color="#b8b847"/><stop offset="0.952" stop-color="#bbbb44"/><stop offset="0.980" stop-color="#e1e11e"/><stop offset="1.000" stop-color="#ffff00"/></linearGradient><linearGradient id="a38" x1="0" y1="0" x2="0" y2="1"><stop offset="0.000" stop-color="#5100ae"/><stop offset="0.048" stop-color="#4c00b3"/><stop offset="0.095" stop-color="#4700b8"/><stop offset="0.143" stop-color="#4200bd"/><stop offset="0.190" stop-color="#3d00c2"/><stop offset="0.238" stop-color="#3800c7"/><stop offset="0.286" stop-color="#3300cc"/><stop offset="0.333" stop-color="#2e00d1"/><stop offset="0.381" stop-color="#2800d7"/><stop offset="0.429" stop-color="#2200dd"/><stop offset="0.476" stop-color="#1d00e2"/><stop offset="0.524" stop-color="#1700e8"/><stop offset="0.571" stop-color="#1100ee"/><stop offset="0.619" stop-color="#0b00f4"/><stop offset="0.667" stop-color="#0400fb"/><stop offset="0.714" stop-color="#0a0af5"/><stop offset="0.762" stop-color="#1c1ce3"/><stop offset="0.810" stop-color="#3737c8"/><stop offset="0.840" stop-color="#4d4db2"/><stop offset="0.857" stop-color="#5b5ba4"/><stop offset="0.880" stop-color="#70708f"/><stop offset="0.905" stop-color="#898976"/><stop offset="0.920" stop-color="#999966"/><stop offset="0.950" stop-color="#bcbc43"/><stop offset="0.952" stop-color="#bfbf40"/><stop offset="0.980" stop-color="#e3e31c"/><stop offset="1.000" stop-color="#ffff00"/></linearGradient><linearGradient id="a39" x1="0" y1="0" x2="0" y2="1"><stop offset="0.000" stop-color="#4a00b5"/><stop offset="0.048" stop-color="#4600b9"/><stop offset="0.095" stop-color="#4100be"/><stop offset="0.143" stop-color="#3c00c3"/><stop offset="0.190" stop-color="#3700c8"/><stop offset="0.238" stop-color="#3300cc"/><stop offset="0.286" stop-color="#2e00d1"/><stop offset="0.333" stop-color="#2800d7"/><stop offset="0.381" stop-color="#2300dc"/><stop offset="0.429" stop-color="#1e00e1"/><stop offset="0.476" stop-color="#1800e7"/><stop offset="0.524" stop-color="#1300ec"/><stop offset="0.571" stop-color="#0d00f2"/><stop offset="0.619" stop-color="#0700f8"/><stop offset="0.667" stop-color="#0100fe"/><stop offset="0.714" stop-color="#1010ef"/><stop offset="0.762" stop-color="#2424db"/><stop offset="0.810" stop-color="#4040bf"/><stop offset="0.840" stop-color="#5656a9"/><stop offset="0.857" stop-color="#63639c"/><stop offset="0.880" stop-color="#787887"/><stop offset="0.905" stop-color="#8f8f70"/><stop offset="0.920" stop-color="#9f9f60"/><stop offset="0.950" stop-color="#c0c03f"/><stop offset="0.952" stop-color="#c3c33c"/><stop offset="0.980" stop-color="#e5e51a"/><stop offset="1.000" stop-color="#ffff00"/></linearGradient><linearGradient id="a40" x1="0" y1="0" x2="0" y2="1"><stop offset="0.000" stop-color="#4300bc"/><stop offset="0.048" stop-color="#3f00c0"/><stop offset="0.095" stop-color="#3a00c5"/><stop offset="0.143" stop-color="#3600c9"/><stop offset="0.190" stop-color="#3100ce"/><stop offset="0.238" stop-color="#2d00d2"/><stop offset="0.286" stop-color="#2800d7"/><stop offset="0.333" stop-color="#2300dc"/><stop offset="0.381" stop-color="#1e00e1"/><stop offset="0.429" stop-color="#1900e6"/><stop offset="0.476" stop-color="#1400eb"/><stop offset="0.524" stop-color="#0f00f0"/><stop offset="0.571" stop-color="#0900f6"/><stop offset="0.619" stop-color="#0400fb"/><stop offset="0.667" stop-color="#0909f6"/><stop offset="0.714" stop-color="#1717e8"/><stop offset="0.762" stop-color="#2d2dd2"/><stop offset="0.810" stop-color="#4949b6"/><stop offset="0.840" stop-color="#5f5fa0"/><stop offset="0.857" stop-color="#6c6c93"/><stop offset="0.880" stop-color="#80807f"/><stop offset="0.905" stop-color="#969669"/><stop offset="0.920" stop-color="#a5a55a"/><stop offset="0.950" stop-color="#c5c53a"/><stop offset="0.952" stop-color="#c7c738"/><stop offset="0.980" stop-color="#e7e718"/><stop offset="1.000" stop-color="#ffff00"/></linearGradient><linearGradient id="a41" x1="0" y1="0" x2="0" y2="1"><stop offset="0.000" stop-color="#3b00c4"/><stop offset="0.048" stop-color="#3700c8"/><stop offset="0.095" stop-color="#3300cc"/><stop offset="0.143" stop-color="#2f00d0"/><stop offset="0.190" stop-color="#2b00d4"/><stop offset="0.238" stop-color="#2600d9"/><stop offset="0.286" stop-color="#2200dd"/><stop offset="0.333" stop-color="#1d00e2"/><stop offset="0.381" stop-color="#1900e6"/><stop offset="0.429" stop-color="#1400eb"/><stop offset="0.476" stop-color="#0f00f0"/><stop offset="0.524" stop-color="#0a00f5"/><stop offset="0.571" stop-color="#0500fa"/><stop offset="0.619" stop-color="#0000ff"/><stop offset="0.667" stop-color="#1111ee"/><stop offset="0.714" stop-color="#2222dd"/><stop offset="0.762" stop-color="#3838c7"/><stop offset="0.810" stop-color="#5454ab"/><stop offset="0.840" stop-color="#696996"/><stop offset="0.857" stop-color="#767689"/><stop offset="0.880" stop-color="#898976"/><stop offset="0.905" stop-color="#9e9e61"/><stop offset="0.920" stop-color="#acac53"/><stop offset="0.950" stop-color="#c9c936"/><stop offset="0.952" stop-color="#cccc33"/><stop offset="0.980" stop-color="#e9e916"/><stop offset="1.000" stop-color="#ffff00"/></linearGradient><linearGradient id="a42" x1="0" y1="0" x2="0" y2="1"><stop offset="0.000" stop-color="#3100ce"/><stop offset="0.048" stop-color="#2d00d2"/><stop offset="0.095" stop-color="#2a00d5"/><stop offset="0.143" stop-color="#2600d9"/><stop offset="0.190" stop-color="#2200dd"/><stop offset="0.238" stop-color="#1e00e1"/><stop offset="0.286" stop-color="#1a00e5"/><stop offset="0.333" stop-color="#1600e9"/><stop offset="0.381" stop-color="#1100ee"/><stop offset="0.429" stop-color="#0d00f2"/><stop offset="0.476" stop-color="#0900f6"/><stop offset="0.524" stop-color="#0400fb"/><stop offset="0.571" stop-color="#0606f9"/><stop offset="0.619" stop-color="#1010ef"/><stop offset="0.667" stop-color="#1e1ee1"/><stop offset="0.714" stop-color="#3131ce"/><stop offset="0.762" stop-color="#4848b7"/><stop offset="0.810" stop-color="#63639c"/><stop offset="0.840" stop-color="#787887"/><stop offset="0.857" stop-color="#84847b"/><stop offset="0.880" stop-color="#95956a"/><stop offset="0.905" stop-color="#a8a857"/><stop offset="0.920" stop-color="#b5b54a"/><stop offset="0.950" stop-color="#cfcf30"/><stop offset="0.952" stop-color="#d1d12e"/><stop offset="0.980" stop-color="#ebeb14"/><stop offset="1.000" stop-color="#ffff00"/></linearGradient><linearGradient id="a43" x1="0" y1="0" x2="0" y2="1"><stop offset="0.000" stop-color="#2700d8"/><stop offset="0.048" stop-color="#2300dc"/><stop offset="0.095" stop-color="#2000df"/><stop offset="0.143" stop-color="#1c00e3"/><stop offset="0.190" stop-color="#1900e6"/><stop offset="0.238" stop-color="#1500ea"/><stop offset="0.286" stop-color="#1200ed"/><stop offset="0.333" stop-color="#0e00f1"/><stop offset="0.381" stop-color="#0a00f5"/><stop offset="0.429" stop-color="#0600f9"/><stop offset="0.476" stop-color="#0200fd"/><stop offset="0.524" stop-color="#0909f6"/><stop offset="0.571" stop-color="#1212ed"/><stop offset="0.619" stop-color="#1f1fe0"/><stop offset="0.667" stop-color="#2f2fd0"/><stop offset="0.714" stop-color="#4242bd"/><stop offset="0.762" stop-color="#5959a6"/><stop offset="0.810" stop-color="#74748b"/><stop offset="0.840" stop-color="#868679"/><stop offset="0.857" stop-color="#91916e"/><stop offset="0.880" stop-color="#a1a15e"/><stop offset="0.905" stop-color="#b3b34c"/><stop offset="0.920" stop-color="#bebe41"/><stop offset="0.950" stop-color="#d5d52a"/><stop offset="0.952" stop-color="#d7d728"/><stop offset="0.980" stop-color="#eeee11"/><stop offset="1.000" stop-color="#ffff00"/></linearGradient><linearGradient id="a44" x1="0" y1="0" x2="0" y2="1"><stop offset="0.000" stop-color="#1d00e2"/><stop offset="0.048" stop-color="#1a00e5"/><stop offset="0.095" stop-color="#1700e8"/><stop offset="0.143" stop-color="#1300ec"/><stop offset="0.190" stop-color="#1000ef"/><stop offset="0.238" stop-color="#0d00f2"/><stop offset="0.286" stop-color="#0a00f5"/><stop offset="0.333" stop-color="#0600f9"/><stop offset="0.381" stop-color="#0300fc"/><stop offset="0.429" stop-color="#0606f9"/><stop offset="0.476" stop-color="#0d0df2"/><stop offset="0.524" stop-color="#1717e8"/><stop offset="0.571" stop-color="#2222dd"/><stop offset="0.619" stop-color="#3131ce"/><stop offset="0.667" stop-color="#4242bd"/><stop offset="0.714" stop-color="#5555aa"/><stop offset="0.762" stop-color="#6b6b94"/><stop offset="0.810" stop-color="#84847b"/><stop offset="0.840" stop-color="#95956a"/><stop offset="0.857" stop-color="#9f9f60"/><stop offset="0.880" stop-color="#adad52"/><stop offset="0.905" stop-color="#bcbc43"/><stop offset="0.920" stop-color="#c6c639"/><stop offset="0.950" stop-color="#dbdb24"/><stop offset="0.952" stop-color="#dcdc23"/><stop offset="0.980" stop-color="#f0f00f"/><stop offset="1.000" stop-color="#ffff00"/></linearGradient><linearGradient id="a45" x1="0" y1="0" x2="0" y2="1"><stop offset="0.000" stop-color="#1200ed"/><stop offset="0.048" stop-color="#0f00f0"/><stop offset="0.095" stop-color="#0d00f2"/><stop offset="0.143" stop-color="#0a00f5"/><stop offset="0.190" stop-color="#0700f8"/><stop offset="0.238" stop-color="#0500fa"/><stop offset="0.286" stop-color="#0200fd"/><stop offset="0.333" stop-color="#0808f7"/><stop offset="0.381" stop-color="#0e0ef1"/><stop offset="0.429" stop-color="#1616e9"/><stop offset="0.476" stop-color="#2020df"/><stop offset="0.524" stop-color="#2b2bd4"/><stop offset="0.571" stop-color="#3838c7"/><stop offset="0.619" stop-color="#4747b8"/><stop offset="0.667" stop-color="#5858a7"/><stop offset="0.714" stop-color="#6b6b94"/><stop offset="0.762" stop-color="#7f7f80"/><stop offset="0.810" stop-color="#95956a"/><stop offset="0.840" stop-color="#a4a45b"/><stop offset="0.857" stop-color="#adad52"/><stop offset="0.880" stop-color="#b9b946"/><stop offset="0.905" stop-color="#c6c639"/><stop offset="0.920" stop-color="#cfcf30"/><stop offset="0.950" stop-color="#e0e01f"/><stop offset="0.952" stop-color="#e2e21d"/><stop offset="0.980" stop-color="#f3f30c"/><stop offset="1.000" stop-color="#ffff00"/></linearGradient><linearGradient id="a46" x1="0" y1="0" x2="0" y2="1"><stop offset="0.000" stop-color="#0b00f4"/><stop offset="0.048" stop-color="#0800f7"/><stop offset="0.095" stop-color="#0600f9"/><stop offset="0.143" stop-color="#0300fc"/><stop offset="0.190" stop-color="#0100fe"/><stop offset="0.238" stop-color="#0909f6"/><stop offset="0.286" stop-color="#0e0ef1"/><stop offset="0.333" stop-color="#1515ea"/><stop offset="0.381" stop-color="#1d1de2"/><stop offset="0.429" stop-color="#2626d9"/><stop offset="0.476" stop-color="#3131ce"/><stop offset="0.524" stop-color="#3d3dc2"/><stop offset="0.571" stop-color="#4b4bb4"/><stop offset="0.619" stop-color="#5959a6"/><stop offset="0.667" stop-color="#696996"/><stop offset="0.714" stop-color="#7b7b84"/><stop offset="0.762" stop-color="#8e8e71"/><stop offset="0.810" stop-color="#a2a25d"/><stop offset="0.840" stop-color="#afaf50"/><stop offset="0.857" stop-color="#b7b748"/><stop offset="0.880" stop-color="#c2c23d"/><stop offset="0.905" stop-color="#cece31"/><stop offset="0.920" stop-color="#d5d52a"/><stop offset="0.950" stop-color="#e4e41b"/><stop offset="0.952" stop-color="#e6e619"/><stop offset="0.980" stop-color="#f4f40b"/><stop offset="1.000" stop-color="#ffff00"/></linearGradient><linearGradient id="a47" x1="0" y1="0" x2="0" y2="1"><stop offset="0.000" stop-color="#0300fc"/><stop offset="0.048" stop-color="#0100fe"/><stop offset="0.095" stop-color="#0808f7"/><stop offset="0.143" stop-color="#0d0df2"/><stop offset="0.190" stop-color="#1212ed"/><stop offset="0.238" stop-color="#1919e6"/><stop offset="0.286" stop-color="#2020df"/><stop offset="0.333" stop-color="#2828d7"/><stop offset="0.381" stop-color="#3131ce"/><stop offset="0.429" stop-color="#3c3cc3"/><stop offset="0.476" stop-color="#4747b8"/><stop offset="0.524" stop-color="#5353ac"/><stop offset="0.571" stop-color="#60609f"/><stop offset="0.619" stop-color="#6e6e91"/><stop offset="0.667" stop-color="#7c7c83"/><stop offset="0.714" stop-color="#8c8c73"/><stop offset="0.762" stop-color="#9d9d62"/><stop offset="0.810" stop-color="#afaf50"/><stop offset="0.840" stop-color="#bbbb44"/><stop offset="0.857" stop-color="#c1c13e"/><stop offset="0.880" stop-color="#cbcb34"/><stop offset="0.905" stop-color="#d5d52a"/><stop offset="0.920" stop-color="#dbdb24"/><stop offset="0.950" stop-color="#e8e817"/><stop offset="0.952" stop-color="#eaea15"/><stop offset="0.980" stop-color="#f6f609"/><stop offset="1.000" stop-color="#ffff00"/></linearGradient><linearGradient id="a48" x1="0" y1="0" x2="0" y2="1"><stop offset="0.000" stop-color="#1818e7"/><stop offset="0.048" stop-color="#1d1de2"/><stop offset="0.095" stop-color="#2323dc"/><stop offset="0.143" stop-color="#2a2ad5"/><stop offset="0.190" stop-color="#3131ce"/><stop offset="0.238" stop-color="#3838c7"/><stop offset="0.286" stop-color="#4141be"/><stop offset="0.333" stop-color="#4949b6"/><stop offset="0.381" stop-color="#5353ac"/><stop offset="0.429" stop-color="#5d5da2"/><stop offset="0.476" stop-color="#676798"/><stop offset="0.524" stop-color="#72728d"/><stop offset="0.571" stop-color="#7e7e81"/><stop offset="0.619" stop-color="#8a8a75"/><stop offset="0.667" stop-color="#979768"/><stop offset="0.714" stop-color="#a4a45b"/><stop offset="0.762" stop-color="#b2b24d"/><stop offset="0.810" stop-color="#c0c03f"/><stop offset="0.840" stop-color="#c9c936"/><stop offset="0.857" stop-color="#cfcf30"/><stop offset="0.880" stop-color="#d6d629"/><stop offset="0.905" stop-color="#dede21"/><stop offset="0.920" stop-color="#e3e31c"/><stop offset="0.950" stop-color="#eeee11"/><stop offset="0.952" stop-color="#eeee11"/><stop offset="0.980" stop-color="#f8f807"/><stop offset="1.000" stop-color="#ffff00"/></linearGradient><linearGradient id="a49" x1="0" y1="0" x2="0" y2="1"><stop offset="0.000" stop-color="#6f6f90"/><stop offset="0.048" stop-color="#75758a"/><stop offset="0.095" stop-color="#7b7b84"/><stop offset="0.143" stop-color="#80807f"/><stop offset="0.190" stop-color="#868679"/><stop offset="0.238" stop-color="#8c8c73"/><stop offset="0.286" stop-color="#92926d"/><stop offset="0.333" stop-color="#999966"/><stop offset="0.381" stop-color="#9f9f60"/><stop offset="0.429" stop-color="#a6a659"/><stop offset="0.476" stop-color="#acac53"/><stop offset="0.524" stop-color="#b3b34c"/><stop offset="0.571" stop-color="#baba45"/><stop offset="0.619" stop-color="#c1c13e"/><stop offset="0.667" stop-color="#c9c936"/><stop offset="0.714" stop-color="#d0d02f"/><stop offset="0.762" stop-color="#d7d728"/><stop offset="0.810" stop-color="#dfdf20"/><stop offset="0.840" stop-color="#e4e41b"/><stop offset="0.857" stop-color="#e7e718"/><stop offset="0.880" stop-color="#ebeb14"/><stop offset="0.905" stop-color="#efef10"/><stop offset="0.920" stop-color="#f1f10e"/><stop offset="0.950" stop-color="#f6f609"/><stop offset="0.952" stop-color="#f7f708"/><stop offset="0.980" stop-color="#fcfc03"/><stop offset="1.000" stop-color="#ffff00"/></linearGradient><linearGradient id="b1" x1="0" y1="0" x2="0" y2="1"><stop offset="0.000" stop-color="#e60019"/><stop offset="0.048" stop-color="#e2001d"/><stop offset="0.095" stop-color="#df0020"/><stop offset="0.143" stop-color="#dc0023"/><stop offset="0.190" stop-color="#d80027"/><stop offset="0.238" stop-color="#d5002a"/><stop offset="0.286" stop-color="#d1002e"/><stop offset="0.333" stop-color="#ce0031"/><stop offset="0.381" stop-color="#cb0034"/><stop offset="0.429" stop-color="#c70038"/><stop offset="0.476" stop-color="#c4003b"/><stop offset="0.524" stop-color="#c0003f"/><stop offset="0.571" stop-color="#bd0042"/><stop offset="0.619" stop-color="#ba0045"/><stop offset="0.667" stop-color="#b60049"/><stop offset="0.714" stop-color="#b3004c"/><stop offset="0.762" stop-color="#b0004f"/><stop offset="0.810" stop-color="#ac0053"/><stop offset="0.840" stop-color="#aa0055"/><stop offset="0.857" stop-color="#a90056"/><stop offset="0.880" stop-color="#a70058"/><stop offset="0.905" stop-color="#a5005a"/><stop offset="0.920" stop-color="#a4005b"/><stop offset="0.925" stop-color="#a4005b"/><stop offset="0.940" stop-color="#0000ff"/><stop offset="0.950" stop-color="#0000ff"/><stop offset="0.952" stop-color="#0000ff"/><stop offset="0.980" stop-color="#0000ff"/><stop offset="0.981" stop-color="#0000ff"/><stop offset="0.993" stop-color="#999966"/><stop offset="1.000" stop-color="#ffff00"/></linearGradient><linearGradient id="b2" x1="0" y1="0" x2="0" y2="1"><stop offset="0.000" stop-color="#e2001d"/><stop offset="0.048" stop-color="#df0020"/><stop offset="0.095" stop-color="#db0024"/><stop offset="0.143" stop-color="#d80027"/><stop offset="0.190" stop-color="#d5002a"/><stop offset="0.238" stop-color="#d2002d"/><stop offset="0.286" stop-color="#cf0030"/><stop offset="0.333" stop-color="#cb0034"/><stop offset="0.381" stop-color="#c80037"/><stop offset="0.429" stop-color="#c5003a"/><stop offset="0.476" stop-color="#c2003d"/><stop offset="0.524" stop-color="#bf0040"/><stop offset="0.571" stop-color="#bb0044"/><stop offset="0.619" stop-color="#b80047"/><stop offset="0.667" stop-color="#b5004a"/><stop offset="0.714" stop-color="#b2004d"/><stop offset="0.762" stop-color="#af0050"/><stop offset="0.810" stop-color="#ab0054"/><stop offset="0.840" stop-color="#a90056"/><stop offset="0.857" stop-color="#a80057"/><stop offset="0.880" stop-color="#a70058"/><stop offset="0.905" stop-color="#a5005a"/><stop offset="0.920" stop-color="#a4005b"/><stop offset="0.921" stop-color="#a4005b"/><stop offset="0.937" stop-color="#0000ff"/><stop offset="0.950" stop-color="#0000ff"/><stop offset="0.952" stop-color="#0000ff"/><stop offset="0.980" stop-color="#0000ff"/><stop offset="0.980" stop-color="#0000ff"/><stop offset="0.992" stop-color="#999966"/><stop offset="1.000" stop-color="#ffff00"/></linearGradient><linearGradient id="b3" x1="0" y1="0" x2="0" y2="1"><stop offset="0.000" stop-color="#de0021"/><stop offset="0.048" stop-color="#db0024"/><stop offset="0.095" stop-color="#d80027"/><stop offset="0.143" stop-color="#d5002a"/><stop offset="0.190" stop-color="#d2002d"/><stop offset="0.238" stop-color="#cf0030"/><stop offset="0.286" stop-color="#cc0033"/><stop offset="0.333" stop-color="#ca0035"/><stop offset="0.381" stop-color="#c70038"/><stop offset="0.429" stop-color="#c4003b"/><stop offset="0.476" stop-color="#c1003e"/><stop offset="0.524" stop-color="#be0041"/><stop offset="0.571" stop-color="#bb0044"/><stop offset="0.619" stop-color="#b80047"/><stop offset="0.667" stop-color="#b5004a"/><stop offset="0.714" stop-color="#b3004c"/><stop offset="0.762" stop-color="#b0004f"/><stop offset="0.810" stop-color="#ad0052"/><stop offset="0.840" stop-color="#ab0054"/><stop offset="0.857" stop-color="#aa0055"/><stop offset="0.880" stop-color="#a90056"/><stop offset="0.905" stop-color="#a70058"/><stop offset="0.920" stop-color="#a60059"/><stop offset="0.950" stop-color="#a4005b"/><stop offset="0.952" stop-color="#a4005b"/><stop offset="0.978" stop-color="#a3005c"/><stop offset="0.980" stop-color="#5200ad"/><stop offset="0.982" stop-color="#0000ff"/><stop offset="0.994" stop-color="#0000ff"/><stop offset="0.998" stop-color="#999966"/><stop offset="1.000" stop-color="#ffff00"/></linearGradient><linearGradient id="b4" x1="0" y1="0" x2="0" y2="1"><stop offset="0.000" stop-color="#da0025"/><stop offset="0.048" stop-color="#d70028"/><stop offset="0.095" stop-color="#d4002b"/><stop offset="0.143" stop-color="#d2002d"/><stop offset="0.190" stop-color="#cf0030"/><stop offset="0.238" stop-color="#cc0033"/><stop offset="0.286" stop-color="#c90036"/><stop offset="0.333" stop-color="#c70038"/><stop offset="0.381" stop-color="#c4003b"/><stop offset="0.429" stop-color="#c1003e"/><stop offset="0.476" stop-color="#bf0040"/><stop offset="0.524" stop-color="#bc0043"/><stop offset="0.571" stop-color="#b90046"/><stop offset="0.619" stop-color="#b70048"/><stop offset="0.667" stop-color="#b4004b"/><stop offset="0.714" stop-color="#b1004e"/><stop offset="0.762" stop-color="#af0050"/><stop offset="0.810" stop-color="#ac0053"/><stop offset="0.840" stop-color="#aa0055"/><stop offset="0.857" stop-color="#a90056"/><stop offset="0.880" stop-color="#a80057"/><stop offset="0.905" stop-color="#a60059"/><stop offset="0.920" stop-color="#a60059"/><stop offset="0.950" stop-color="#a4005b"/><stop offset="0.952" stop-color="#a4005b"/><stop offset="0.976" stop-color="#a2005d"/><stop offset="0.980" stop-color="#2200dd"/><stop offset="0.981" stop-color="#0000ff"/><stop offset="0.994" stop-color="#0000ff"/><stop offset="0.998" stop-color="#999966"/><stop offset="1.000" stop-color="#ffff00"/></linearGradient><linearGradient id="b5" x1="0" y1="0" x2="0" y2="1"><stop offset="0.000" stop-color="#d60029"/><stop offset="0.048" stop-color="#d3002c"/><stop offset="0.095" stop-color="#d1002e"/><stop offset="0.143" stop-color="#ce0031"/><stop offset="0.190" stop-color="#cc0033"/><stop offset="0.238" stop-color="#c90036"/><stop offset="0.286" stop-color="#c70038"/><stop offset="0.333" stop-color="#c4003b"/><stop offset="0.381" stop-color="#c2003d"/><stop offset="0.429" stop-color="#bf0040"/><stop offset="0.476" stop-color="#bd0042"/><stop offset="0.524" stop-color="#ba0045"/><stop offset="0.571" stop-color="#b80047"/><stop offset="0.619" stop-color="#b5004a"/><stop offset="0.667" stop-color="#b3004c"/><stop offset="0.714" stop-color="#b0004f"/><stop offset="0.762" stop-color="#ae0051"/><stop offset="0.810" stop-color="#ab0054"/><stop offset="0.840" stop-color="#a90056"/><stop offset="0.857" stop-color="#a80057"/><stop offset="0.880" stop-color="#a70058"/><stop offset="0.905" stop-color="#a60059"/><stop offset="0.920" stop-color="#a5005a"/><stop offset="0.950" stop-color="#a4005b"/><stop offset="0.952" stop-color="#a3005c"/><stop offset="0.975" stop-color="#a2005d"/><stop offset="0.980" stop-color="#0000ff"/><stop offset="0.980" stop-color="#0000ff"/><stop offset="0.994" stop-color="#0000ff"/><stop offset="0.997" stop-color="#999966"/><stop offset="1.000" stop-color="#ffff00"/></linearGradient><linearGradient id="b6" x1="0" y1="0" x2="0" y2="1"><stop offset="0.000" stop-color="#d2002d"/><stop offset="0.048" stop-color="#d0002f"/><stop offset="0.095" stop-color="#cd0032"/><stop offset="0.143" stop-color="#cb0034"/><stop offset="0.190" stop-color="#c90036"/><stop offset="0.238" stop-color="#c60039"/><stop offset="0.286" stop-color="#c4003b"/><stop offset="0.333" stop-color="#c2003d"/><stop offset="0.381" stop-color="#bf0040"/><stop offset="0.429" stop-color="#bd0042"/><stop offset="0.476" stop-color="#bb0044"/><stop offset="0.524" stop-color="#b80047"/><stop offset="0.571" stop-color="#b60049"/><stop offset="0.619" stop-color="#b4004b"/><stop offset="0.667" stop-color="#b1004e"/><stop offset="0.714" stop-color="#af0050"/><stop offset="0.762" stop-color="#ad0052"/><stop offset="0.810" stop-color="#aa0055"/><stop offset="0.840" stop-color="#a90056"/><stop offset="0.857" stop-color="#a80057"/><stop offset="0.880" stop-color="#a70058"/><stop offset="0.905" stop-color="#a60059"/><stop offset="0.920" stop-color="#a5005a"/><stop offset="0.950" stop-color="#a3005c"/><stop offset="0.952" stop-color="#a3005c"/><stop offset="0.973" stop-color="#a2005d"/><stop offset="0.978" stop-color="#0000ff"/><stop offset="0.980" stop-color="#0000ff"/><stop offset="0.993" stop-color="#0000ff"/><stop offset="0.997" stop-color="#999966"/><stop offset="1.000" stop-color="#ffff00"/></linearGradient><linearGradient id="b7" x1="0" y1="0" x2="0" y2="1"><stop offset="0.000" stop-color="#cf0030"/><stop offset="0.048" stop-color="#cc0033"/><stop offset="0.095" stop-color="#ca0035"/><stop offset="0.143" stop-color="#c80037"/><stop offset="0.190" stop-color="#c60039"/><stop offset="0.238" stop-color="#c4003b"/><stop offset="0.286" stop-color="#c1003e"/><stop offset="0.333" stop-color="#bf0040"/><stop offset="0.381" stop-color="#bd0042"/><stop offset="0.429" stop-color="#bb0044"/><stop offset="0.476" stop-color="#b90046"/><stop offset="0.524" stop-color="#b70048"/><stop offset="0.571" stop-color="#b4004b"/><stop offset="0.619" stop-color="#b2004d"/><stop offset="0.667" stop-color="#b0004f"/><stop offset="0.714" stop-color="#ae0051"/><stop offset="0.762" stop-color="#ac0053"/><stop offset="0.810" stop-color="#a90056"/><stop offset="0.840" stop-color="#a80057"/><stop offset="0.857" stop-color="#a70058"/><stop offset="0.880" stop-color="#a60059"/><stop offset="0.905" stop-color="#a5005a"/><stop offset="0.920" stop-color="#a4005b"/><stop offset="0.950" stop-color="#a3005c"/><stop offset="0.952" stop-color="#a3005c"/><stop offset="0.971" stop-color="#a2005d"/><stop offset="0.977" stop-color="#0000ff"/><stop offset="0.980" stop-color="#0000ff"/><stop offset="0.993" stop-color="#0000ff"/><stop offset="0.997" stop-color="#999966"/><stop offset="1.000" stop-color="#ffff00"/></linearGradient><linearGradient id="b8" x1="0" y1="0" x2="0" y2="1"><stop offset="0.000" stop-color="#cc0033"/><stop offset="0.048" stop-color="#ca0035"/><stop offset="0.095" stop-color="#c80037"/><stop offset="0.143" stop-color="#c5003a"/><stop offset="0.190" stop-color="#c3003c"/><stop offset="0.238" stop-color="#c1003e"/><stop offset="0.286" stop-color="#bf0040"/><stop offset="0.333" stop-color="#bd0042"/><stop offset="0.381" stop-color="#bb0044"/><stop offset="0.429" stop-color="#b90046"/><stop offset="0.476" stop-color="#b70048"/><stop offset="0.524" stop-color="#b5004a"/><stop offset="0.571" stop-color="#b3004c"/><stop offset="0.619" stop-color="#b1004e"/><stop offset="0.667" stop-color="#af0050"/><stop offset="0.714" stop-color="#ad0052"/><stop offset="0.762" stop-color="#ab0054"/><stop offset="0.810" stop-color="#a90056"/><stop offset="0.840" stop-color="#a70058"/><stop offset="0.857" stop-color="#a70058"/><stop offset="0.880" stop-color="#a60059"/><stop offset="0.905" stop-color="#a5005a"/><stop offset="0.920" stop-color="#a4005b"/><stop offset="0.950" stop-color="#a3005c"/><stop offset="0.952" stop-color="#a3005c"/><stop offset="0.969" stop-color="#a2005d"/><stop offset="0.975" stop-color="#0000ff"/><stop offset="0.980" stop-color="#0000ff"/><stop offset="0.992" stop-color="#0000ff"/><stop offset="0.997" stop-color="#999966"/><stop offset="1.000" stop-color="#ffff00"/></linearGradient><linearGradient id="b9" x1="0" y1="0" x2="0" y2="1"><stop offset="0.000" stop-color="#c90036"/><stop offset="0.048" stop-color="#c70038"/><stop offset="0.095" stop-color="#c5003a"/><stop offset="0.143" stop-color="#c3003c"/><stop offset="0.190" stop-color="#c1003e"/><stop offset="0.238" stop-color="#bf0040"/><stop offset="0.286" stop-color="#bd0042"/><stop offset="0.333" stop-color="#bb0044"/><stop offset="0.381" stop-color="#b90046"/><stop offset="0.429" stop-color="#b80047"/><stop offset="0.476" stop-color="#b60049"/><stop offset="0.524" stop-color="#b4004b"/><stop offset="0.571" stop-color="#b2004d"/><stop offset="0.619" stop-color="#b0004f"/><stop offset="0.667" stop-color="#ae0051"/><stop offset="0.714" stop-color="#ac0053"/><stop offset="0.762" stop-color="#aa0055"/><stop offset="0.810" stop-color="#a80057"/><stop offset="0.840" stop-color="#a70058"/><stop offset="0.857" stop-color="#a60059"/><stop offset="0.880" stop-color="#a5005a"/><stop offset="0.905" stop-color="#a4005b"/><stop offset="0.920" stop-color="#a4005b"/><stop offset="0.950" stop-color="#a2005d"/><stop offset="0.952" stop-color="#a2005d"/><stop offset="0.967" stop-color="#a2005d"/><stop offset="0.974" stop-color="#0000ff"/><stop offset="0.980" stop-color="#0000ff"/><stop offset="0.992" stop-color="#0000ff"/><stop offset="0.997" stop-color="#999966"/><stop offset="1.000" stop-color="#ffff00"/></linearGradient><linearGradient id="b10" x1="0" y1="0" x2="0" y2="1"><stop offset="0.000" stop-color="#c60039"/><stop offset="0.048" stop-color="#c4003b"/><stop offset="0.095" stop-color="#c2003d"/><stop offset="0.143" stop-color="#c0003f"/><stop offset="0.190" stop-color="#bf0040"/><stop offset="0.238" stop-color="#bd0042"/><stop offset="0.286" stop-color="#bb0044"/><stop offset="0.333" stop-color="#b90046"/><stop offset="0.381" stop-color="#b70048"/><stop offset="0.429" stop-color="#b60049"/><stop offset="0.476" stop-color="#b4004b"/><stop offset="0.524" stop-color="#b2004d"/><stop offset="0.571" stop-color="#b0004f"/><stop offset="0.619" stop-color="#ae0051"/><stop offset="0.667" stop-color="#ad0052"/><stop offset="0.714" stop-color="#ab0054"/><stop offset="0.762" stop-color="#a90056"/><stop offset="0.810" stop-color="#a70058"/><stop offset="0.840" stop-color="#a60059"/><stop offset="0.857" stop-color="#a60059"/><stop offset="0.880" stop-color="#a5005a"/><stop offset="0.905" stop-color="#a4005b"/><stop offset="0.920" stop-color="#a3005c"/><stop offset="0.950" stop-color="#a2005d"/><stop offset="0.952" stop-color="#a2005d"/><stop offset="0.964" stop-color="#a2005d"/><stop offset="0.971" stop-color="#0000ff"/><stop offset="0.980" stop-color="#0000ff"/><stop offset="0.991" stop-color="#0000ff"/><stop offset="0.996" stop-color="#999966"/><stop offset="1.000" stop-color="#ffff00"/></linearGradient><linearGradient id="b11" x1="0" y1="0" x2="0" y2="1"><stop offset="0.000" stop-color="#c3003c"/><stop offset="0.048" stop-color="#c1003e"/><stop offset="0.095" stop-color="#bf0040"/><stop offset="0.143" stop-color="#be0041"/><stop offset="0.190" stop-color="#bc0043"/><stop offset="0.238" stop-color="#ba0045"/><stop offset="0.286" stop-color="#b90046"/><stop offset="0.333" stop-color="#b70048"/><stop offset="0.381" stop-color="#b5004a"/><stop offset="0.429" stop-color="#b4004b"/><stop offset="0.476" stop-color="#b2004d"/><stop offset="0.524" stop-color="#b0004f"/><stop offset="0.571" stop-color="#af0050"/><stop offset="0.619" stop-color="#ad0052"/><stop offset="0.667" stop-color="#ab0054"/><stop offset="0.714" stop-color="#aa0055"/><stop offset="0.762" stop-color="#a80057"/><stop offset="0.810" stop-color="#a60059"/><stop offset="0.840" stop-color="#a5005a"/><stop offset="0.857" stop-color="#a5005a"/><stop offset="0.880" stop-color="#a4005b"/><stop offset="0.905" stop-color="#a3005c"/><stop offset="0.920" stop-color="#a3005c"/><stop offset="0.950" stop-color="#a1005e"/><stop offset="0.952" stop-color="#a1005e"/><stop offset="0.962" stop-color="#a1005e"/><stop offset="0.969" stop-color="#0000ff"/><stop offset="0.980" stop-color="#0000ff"/><stop offset="0.990" stop-color="#0000ff"/><stop offset="0.996" stop-color="#999966"/><stop offset="1.000" stop-color="#ffff00"/></linearGradient><linearGradient id="b12" x1="0" y1="0" x2="0" y2="1"><stop offset="0.000" stop-color="#c0003f"/><stop offset="0.048" stop-color="#bf0040"/><stop offset="0.095" stop-color="#bd0042"/><stop offset="0.143" stop-color="#bb0044"/><stop offset="0.190" stop-color="#ba0045"/><stop offset="0.238" stop-color="#b80047"/><stop offset="0.286" stop-color="#b70048"/><stop offset="0.333" stop-color="#b5004a"/><stop offset="0.381" stop-color="#b4004b"/><stop offset="0.429" stop-color="#b2004d"/><stop offset="0.476" stop-color="#b0004f"/><stop offset="0.524" stop-color="#af0050"/><stop offset="0.571" stop-color="#ad0052"/><stop offset="0.619" stop-color="#ac0053"/><stop offset="0.667" stop-color="#aa0055"/><stop offset="0.714" stop-color="#a90056"/><stop offset="0.762" stop-color="#a70058"/><stop offset="0.810" stop-color="#a60059"/><stop offset="0.840" stop-color="#a5005a"/><stop offset="0.857" stop-color="#a4005b"/><stop offset="0.880" stop-color="#a3005c"/><stop offset="0.905" stop-color="#a2005d"/><stop offset="0.920" stop-color="#a2005d"/><stop offset="0.950" stop-color="#a1005e"/><stop offset="0.952" stop-color="#a1005e"/><stop offset="0.959" stop-color="#a1005e"/><stop offset="0.967" stop-color="#0000ff"/><stop offset="0.980" stop-color="#0000ff"/><stop offset="0.990" stop-color="#0000ff"/><stop offset="0.996" stop-color="#999966"/><stop offset="1.000" stop-color="#ffff00"/></linearGradient><linearGradient id="b13" x1="0" y1="0" x2="0" y2="1"><stop offset="0.000" stop-color="#bd0042"/><stop offset="0.048" stop-color="#bb0044"/><stop offset="0.095" stop-color="#ba0045"/><stop offset="0.143" stop-color="#b90046"/><stop offset="0.190" stop-color="#b70048"/><stop offset="0.238" stop-color="#b60049"/><stop offset="0.286" stop-color="#b4004b"/><stop offset="0.333" stop-color="#b3004c"/><stop offset="0.381" stop-color="#b1004e"/><stop offset="0.429" stop-color="#b0004f"/><stop offset="0.476" stop-color="#af0050"/><stop offset="0.524" stop-color="#ad0052"/><stop offset="0.571" stop-color="#ac0053"/><stop offset="0.619" stop-color="#aa0055"/><stop offset="0.667" stop-color="#a90056"/><stop offset="0.714" stop-color="#a70058"/><stop offset="0.762" stop-color="#a60059"/><stop offset="0.810" stop-color="#a5005a"/><stop offset="0.840" stop-color="#a4005b"/><stop offset="0.857" stop-color="#a3005c"/><stop offset="0.880" stop-color="#a2005d"/><stop offset="0.905" stop-color="#a2005d"/><stop offset="0.920" stop-color="#a1005e"/><stop offset="0.950" stop-color="#a0005f"/><stop offset="0.952" stop-color="#a0005f"/><stop offset="0.955" stop-color="#a0005f"/><stop offset="0.964" stop-color="#0000ff"/><stop offset="0.980" stop-color="#0000ff"/><stop offset="0.989" stop-color="#0000ff"/><stop offset="0.996" stop-color="#999966"/><stop offset="1.000" stop-color="#ffff00"/></linearGradient><linearGradient id="b14" x1="0" y1="0" x2="0" y2="1"><stop offset="0.000" stop-color="#ba0045"/><stop offset="0.048" stop-color="#b90046"/><stop offset="0.095" stop-color="#b80047"/><stop offset="0.143" stop-color="#b60049"/><stop offset="0.190" stop-color="#b5004a"/><stop offset="0.238" stop-color="#b4004b"/><stop offset="0.286" stop-color="#b2004d"/><stop offset="0.333" stop-color="#b1004e"/><stop offset="0.381" stop-color="#b0004f"/><stop offset="0.429" stop-color="#ae0051"/><stop offset="0.476" stop-color="#ad0052"/><stop offset="0.524" stop-color="#ac0053"/><stop offset="0.571" stop-color="#aa0055"/><stop offset="0.619" stop-color="#a90056"/><stop offset="0.667" stop-color="#a80057"/><stop offset="0.714" stop-color="#a60059"/><stop offset="0.762" stop-color="#a5005a"/><stop offset="0.810" stop-color="#a4005b"/><stop offset="0.840" stop-color="#a3005c"/><stop offset="0.857" stop-color="#a2005d"/><stop offset="0.880" stop-color="#a2005d"/><stop offset="0.905" stop-color="#a1005e"/><stop offset="0.920" stop-color="#a1005e"/><stop offset="0.950" stop-color="#a0005f"/><stop offset="0.952" stop-color="#a0005f"/><stop offset="0.952" stop-color="#990066"/><stop offset="0.962" stop-color="#0000ff"/><stop offset="0.980" stop-color="#0000ff"/><stop offset="0.988" stop-color="#0000ff"/><stop offset="0.995" stop-color="#999966"/><stop offset="1.000" stop-color="#ffff00"/></linearGradient><linearGradient id="b15" x1="0" y1="0" x2="0" y2="1"><stop offset="0.000" stop-color="#b80047"/><stop offset="0.048" stop-color="#b60049"/><stop offset="0.095" stop-color="#b5004a"/><stop offset="0.143" stop-color="#b4004b"/><stop offset="0.190" stop-color="#b3004c"/><stop offset="0.238" stop-color="#b2004d"/><stop offset="0.286" stop-color="#b0004f"/><stop offset="0.333" stop-color="#af0050"/><stop offset="0.381" stop-color="#ae0051"/><stop offset="0.429" stop-color="#ad0052"/><stop offset="0.476" stop-color="#ab0054"/><stop offset="0.524" stop-color="#aa0055"/><stop offset="0.571" stop-color="#a90056"/><stop offset="0.619" stop-color="#a80057"/><stop offset="0.667" stop-color="#a60059"/><stop offset="0.714" stop-color="#a5005a"/><stop offset="0.762" stop-color="#a4005b"/><stop offset="0.810" stop-color="#a3005c"/><stop offset="0.840" stop-color="#a2005d"/><stop offset="0.857" stop-color="#a2005d"/><stop offset="0.880" stop-color="#a1005e"/><stop offset="0.905" stop-color="#a0005f"/><stop offset="0.920" stop-color="#a0005f"/><stop offset="0.948" stop-color="#9f0060"/><stop offset="0.950" stop-color="#7e0081"/><stop offset="0.952" stop-color="#5a00a5"/><stop offset="0.958" stop-color="#0000ff"/><stop offset="0.980" stop-color="#0000ff"/><stop offset="0.987" stop-color="#0000ff"/><stop offset="0.995" stop-color="#999966"/><stop offset="1.000" stop-color="#ffff00"/></linearGradient><linearGradient id="b16" x1="0" y1="0" x2="0" y2="1"><stop offset="0.000" stop-color="#b4004b"/><stop offset="0.048" stop-color="#b3004c"/><stop offset="0.095" stop-color="#b2004d"/><stop offset="0.143" stop-color="#b1004e"/><stop offset="0.190" stop-color="#b0004f"/><stop offset="0.238" stop-color="#af0050"/><stop offset="0.286" stop-color="#ae0051"/><stop offset="0.333" stop-color="#ad0052"/><stop offset="0.381" stop-color="#ac0053"/><stop offset="0.429" stop-color="#ab0054"/><stop offset="0.476" stop-color="#a90056"/><stop offset="0.524" stop-color="#a80057"/><stop offset="0.571" stop-color="#a70058"/><stop offset="0.619" stop-color="#a60059"/><stop offset="0.667" stop-color="#a5005a"/><stop offset="0.714" stop-color="#a4005b"/><stop offset="0.762" stop-color="#a3005c"/><stop offset="0.810" stop-color="#a2005d"/><stop offset="0.840" stop-color="#a1005e"/><stop offset="0.857" stop-color="#a1005e"/><stop offset="0.880" stop-color="#a0005f"/><stop offset="0.905" stop-color="#9f0060"/><stop offset="0.920" stop-color="#9f0060"/><stop offset="0.942" stop-color="#9f0060"/><stop offset="0.950" stop-color="#3300cc"/><stop offset="0.952" stop-color="#1300ec"/><stop offset="0.954" stop-color="#0000ff"/><stop offset="0.980" stop-color="#0000ff"/><stop offset="0.986" stop-color="#0000ff"/><stop offset="0.994" stop-color="#999966"/><stop offset="1.000" stop-color="#ffff00"/></linearGradient><linearGradient id="b17" x1="0" y1="0" x2="0" y2="1"><stop offset="0.000" stop-color="#b2004d"/><stop offset="0.048" stop-color="#b1004e"/><stop offset="0.095" stop-color="#b0004f"/><stop offset="0.143" stop-color="#af0050"/><stop offset="0.190" stop-color="#ae0051"/><stop offset="0.238" stop-color="#ad0052"/><stop offset="0.286" stop-color="#ac0053"/><stop offset="0.333" stop-color="#ab0054"/><stop offset="0.381" stop-color="#aa0055"/><stop offset="0.429" stop-color="#a90056"/><stop offset="0.476" stop-color="#a80057"/><stop offset="0.524" stop-color="#a70058"/><stop offset="0.571" stop-color="#a60059"/><stop offset="0.619" stop-color="#a5005a"/><stop offset="0.667" stop-color="#a4005b"/><stop offset="0.714" stop-color="#a2005d"/><stop offset="0.762" stop-color="#a1005e"/><stop offset="0.810" stop-color="#a0005f"/><stop offset="0.840" stop-color="#a0005f"/><stop offset="0.857" stop-color="#9f0060"/><stop offset="0.880" stop-color="#9f0060"/><stop offset="0.905" stop-color="#9e0061"/><stop offset="0.920" stop-color="#9e0061"/><stop offset="0.938" stop-color="#9e0061"/><stop offset="0.950" stop-color="#0a00f5"/><stop offset="0.951" stop-color="#0000ff"/><stop offset="0.952" stop-color="#0000ff"/><stop offset="0.980" stop-color="#0000ff"/><stop offset="0.985" stop-color="#0000ff"/><stop offset="0.994" stop-color="#999966"/><stop offset="1.000" stop-color="#ffff00"/></linearGradient><linearGradient id="b18" x1="0" y1="0" x2="0" y2="1"><stop offset="0.000" stop-color="#af0050"/><stop offset="0.048" stop-color="#ae0051"/><stop offset="0.095" stop-color="#ad0052"/><stop offset="0.143" stop-color="#ac0053"/><stop offset="0.190" stop-color="#ab0054"/><stop offset="0.238" stop-color="#aa0055"/><stop offset="0.286" stop-color="#a90056"/><stop offset="0.333" stop-color="#a90056"/><stop offset="0.381" stop-color="#a80057"/><stop offset="0.429" stop-color="#a70058"/><stop offset="0.476" stop-color="#a60059"/><stop offset="0.524" stop-color="#a5005a"/><stop offset="0.571" stop-color="#a4005b"/><stop offset="0.619" stop-color="#a3005c"/><stop offset="0.667" stop-color="#a2005d"/><stop offset="0.714" stop-color="#a1005e"/><stop offset="0.762" stop-color="#a0005f"/><stop offset="0.810" stop-color="#9f0060"/><stop offset="0.840" stop-color="#9e0061"/><stop offset="0.857" stop-color="#9e0061"/><stop offset="0.880" stop-color="#9d0062"/><stop offset="0.905" stop-color="#9d0062"/><stop offset="0.920" stop-color="#9d0062"/><stop offset="0.934" stop-color="#9c0063"/><stop offset="0.947" stop-color="#0000ff"/><stop offset="0.950" stop-color="#0000ff"/><stop offset="0.952" stop-color="#0000ff"/><stop offset="0.980" stop-color="#0000ff"/><stop offset="0.984" stop-color="#0000ff"/><stop offset="0.993" stop-color="#999966"/><stop offset="1.000" stop-color="#ffff00"/></linearGradient><linearGradient id="b19" x1="0" y1="0" x2="0" y2="1"><stop offset="0.000" stop-color="#ac0053"/><stop offset="0.048" stop-color="#ab0054"/><stop offset="0.095" stop-color="#aa0055"/><stop offset="0.143" stop-color="#aa0055"/><stop offset="0.190" stop-color="#a90056"/><stop offset="0.238" stop-color="#a80057"/><stop offset="0.286" stop-color="#a70058"/><stop offset="0.333" stop-color="#a60059"/><stop offset="0.381" stop-color="#a5005a"/><stop offset="0.429" stop-color="#a4005b"/><stop offset="0.476" stop-color="#a3005c"/><stop offset="0.524" stop-color="#a2005d"/><stop offset="0.571" stop-color="#a1005e"/><stop offset="0.619" stop-color="#a0005f"/><stop offset="0.667" stop-color="#a0005f"/><stop offset="0.714" stop-color="#9f0060"/><stop offset="0.762" stop-color="#9e0061"/><stop offset="0.810" stop-color="#9d0062"/><stop offset="0.840" stop-color="#9c0063"/><stop offset="0.857" stop-color="#9c0063"/><stop offset="0.880" stop-color="#9c0063"/><stop offset="0.905" stop-color="#9b0064"/><stop offset="0.920" stop-color="#9b0064"/><stop offset="0.929" stop-color="#9b0064"/><stop offset="0.944" stop-color="#0000ff"/><stop offset="0.950" stop-color="#0000ff"/><stop offset="0.952" stop-color="#0000ff"/><stop offset="0.980" stop-color="#0000ff"/><stop offset="0.982" stop-color="#0000ff"/><stop offset="0.993" stop-color="#999966"/><stop offset="1.000" stop-color="#ffff00"/></linearGradient><linearGradient id="b20" x1="0" y1="0" x2="0" y2="1"><stop offset="0.000" stop-color="#a90056"/><stop offset="0.048" stop-color="#a80057"/><stop offset="0.095" stop-color="#a70058"/><stop offset="0.143" stop-color="#a60059"/><stop offset="0.190" stop-color="#a5005a"/><stop offset="0.238" stop-color="#a4005b"/><stop offset="0.286" stop-color="#a4005b"/><stop offset="0.333" stop-color="#a3005c"/><stop offset="0.381" stop-color="#a2005d"/><stop offset="0.429" stop-color="#a1005e"/><stop offset="0.476" stop-color="#a0005f"/><stop offset="0.524" stop-color="#9f0060"/><stop offset="0.571" stop-color="#9f0060"/><stop offset="0.619" stop-color="#9e0061"/><stop offset="0.667" stop-color="#9d0062"/><stop offset="0.714" stop-color="#9c0063"/><stop offset="0.762" stop-color="#9b0064"/><stop offset="0.810" stop-color="#9b0064"/><stop offset="0.840" stop-color="#9a0065"/><stop offset="0.857" stop-color="#9a0065"/><stop offset="0.880" stop-color="#990066"/><stop offset="0.905" stop-color="#990066"/><stop offset="0.920" stop-color="#990066"/><stop offset="0.923" stop-color="#990066"/><stop offset="0.938" stop-color="#0000ff"/><stop offset="0.950" stop-color="#0000ff"/><stop offset="0.952" stop-color="#0000ff"/><stop offset="0.980" stop-color="#0000ff"/><stop offset="0.981" stop-color="#0000ff"/><stop offset="0.992" stop-color="#999966"/><stop offset="1.000" stop-color="#ffff00"/></linearGradient><linearGradient id="b21" x1="0" y1="0" x2="0" y2="1"><stop offset="0.000" stop-color="#a5005a"/><stop offset="0.048" stop-color="#a4005b"/><stop offset="0.095" stop-color="#a3005c"/><stop offset="0.143" stop-color="#a2005d"/><stop offset="0.190" stop-color="#a2005d"/><stop offset="0.238" stop-color="#a1005e"/><stop offset="0.286" stop-color="#a0005f"/><stop offset="0.333" stop-color="#9f0060"/><stop offset="0.381" stop-color="#9f0060"/><stop offset="0.429" stop-color="#9e0061"/><stop offset="0.476" stop-color="#9d0062"/><stop offset="0.524" stop-color="#9c0063"/><stop offset="0.571" stop-color="#9c0063"/><stop offset="0.619" stop-color="#9b0064"/><stop offset="0.667" stop-color="#9a0065"/><stop offset="0.714" stop-color="#990066"/><stop offset="0.762" stop-color="#990066"/><stop offset="0.810" stop-color="#980067"/><stop offset="0.840" stop-color="#970068"/><stop offset="0.857" stop-color="#970068"/><stop offset="0.880" stop-color="#970068"/><stop offset="0.905" stop-color="#960069"/><stop offset="0.915" stop-color="#960069"/><stop offset="0.920" stop-color="#6a0095"/><stop offset="0.932" stop-color="#0000ff"/><stop offset="0.950" stop-color="#0000ff"/><stop offset="0.952" stop-color="#0000ff"/><stop offset="0.979" stop-color="#0000ff"/><stop offset="0.980" stop-color="#0f0ff0"/><stop offset="0.992" stop-color="#999966"/><stop offset="1.000" stop-color="#ffff00"/></linearGradient><linearGradient id="b22" x1="0" y1="0" x2="0" y2="1"><stop offset="0.000" stop-color="#a0005f"/><stop offset="0.048" stop-color="#a0005f"/><stop offset="0.095" stop-color="#9f0060"/><stop offset="0.143" stop-color="#9e0061"/><stop offset="0.190" stop-color="#9e0061"/><stop offset="0.238" stop-color="#9d0062"/><stop offset="0.286" stop-color="#9c0063"/><stop offset="0.333" stop-color="#9b0064"/><stop offset="0.381" stop-color="#9b0064"/><stop offset="0.429" stop-color="#9a0065"/><stop offset="0.476" stop-color="#990066"/><stop offset="0.524" stop-color="#990066"/><stop offset="0.571" stop-color="#980067"/><stop offset="0.619" stop-color="#970068"/><stop offset="0.667" stop-color="#970068"/><stop offset="0.714" stop-color="#960069"/><stop offset="0.762" stop-color="#95006a"/><stop offset="0.810" stop-color="#95006a"/><stop offset="0.840" stop-color="#94006b"/><stop offset="0.857" stop-color="#94006b"/><stop offset="0.880" stop-color="#94006b"/><stop offset="0.905" stop-color="#93006c"/><stop offset="0.906" stop-color="#93006c"/><stop offset="0.920" stop-color="#2300dc"/><stop offset="0.925" stop-color="#0000ff"/><stop offset="0.950" stop-color="#0000ff"/><stop offset="0.952" stop-color="#0000ff"/><stop offset="0.976" stop-color="#0000ff"/><stop offset="0.980" stop-color="#2727d8"/><stop offset="0.991" stop-color="#999966"/><stop offset="1.000" stop-color="#ffff00"/></linearGradient><linearGradient id="b23" x1="0" y1="0" x2="0" y2="1"><stop offset="0.000" stop-color="#9c0063"/><stop offset="0.048" stop-color="#9b0064"/><stop offset="0.095" stop-color="#9a0065"/><stop offset="0.143" stop-color="#9a0065"/><stop offset="0.190" stop-color="#990066"/><stop offset="0.238" stop-color="#990066"/><stop offset="0.286" stop-color="#980067"/><stop offset="0.333" stop-color="#970068"/><stop offset="0.381" stop-color="#970068"/><stop offset="0.429" stop-color="#960069"/><stop offset="0.476" stop-color="#960069"/><stop offset="0.524" stop-color="#95006a"/><stop offset="0.571" stop-color="#94006b"/><stop offset="0.619" stop-color="#94006b"/><stop offset="0.667" stop-color="#93006c"/><stop offset="0.714" stop-color="#93006c"/><stop offset="0.762" stop-color="#92006d"/><stop offset="0.810" stop-color="#91006e"/><stop offset="0.840" stop-color="#91006e"/><stop offset="0.857" stop-color="#91006e"/><stop offset="0.880" stop-color="#90006f"/><stop offset="0.894" stop-color="#90006f"/><stop offset="0.905" stop-color="#4700b8"/><stop offset="0.915" stop-color="#0000ff"/><stop offset="0.920" stop-color="#0000ff"/><stop offset="0.950" stop-color="#0000ff"/><stop offset="0.952" stop-color="#0000ff"/><stop offset="0.974" stop-color="#0000ff"/><stop offset="0.980" stop-color="#3f3fc0"/><stop offset="0.989" stop-color="#999966"/><stop offset="1.000" stop-color="#ffff00"/></linearGradient><linearGradient id="b24" x1="0" y1="0" x2="0" y2="1"><stop offset="0.000" stop-color="#970068"/><stop offset="0.048" stop-color="#960069"/><stop offset="0.095" stop-color="#960069"/><stop offset="0.143" stop-color="#95006a"/><stop offset="0.190" stop-color="#95006a"/><stop offset="0.238" stop-color="#94006b"/><stop offset="0.286" stop-color="#94006b"/><stop offset="0.333" stop-color="#93006c"/><stop offset="0.381" stop-color="#92006d"/><stop offset="0.429" stop-color="#92006d"/><stop offset="0.476" stop-color="#91006e"/><stop offset="0.524" stop-color="#91006e"/><stop offset="0.571" stop-color="#90006f"/><stop offset="0.619" stop-color="#90006f"/><stop offset="0.667" stop-color="#8f0070"/><stop offset="0.714" stop-color="#8f0070"/><stop offset="0.762" stop-color="#8e0071"/><stop offset="0.810" stop-color="#8e0071"/><stop offset="0.840" stop-color="#8d0072"/><stop offset="0.857" stop-color="#8d0072"/><stop offset="0.880" stop-color="#8d0072"/><stop offset="0.883" stop-color="#8d0072"/><stop offset="0.905" stop-color="#0900f6"/><stop offset="0.906" stop-color="#0000ff"/><stop offset="0.920" stop-color="#0000ff"/><stop offset="0.950" stop-color="#0000ff"/><stop offset="0.952" stop-color="#0000ff"/><stop offset="0.971" stop-color="#0000ff"/><stop offset="0.980" stop-color="#5151ae"/><stop offset="0.988" stop-color="#999966"/><stop offset="1.000" stop-color="#ffff00"/></linearGradient><linearGradient id="b25" x1="0" y1="0" x2="0" y2="1"><stop offset="0.000" stop-color="#92006d"/><stop offset="0.048" stop-color="#92006d"/><stop offset="0.095" stop-color="#91006e"/><stop offset="0.143" stop-color="#91006e"/><stop offset="0.190" stop-color="#90006f"/><stop offset="0.238" stop-color="#90006f"/><stop offset="0.286" stop-color="#8f0070"/><stop offset="0.333" stop-color="#8f0070"/><stop offset="0.381" stop-color="#8e0071"/><stop offset="0.429" stop-color="#8e0071"/><stop offset="0.476" stop-color="#8d0072"/><stop offset="0.524" stop-color="#8c0073"/><stop offset="0.571" stop-color="#8c0073"/><stop offset="0.619" stop-color="#8b0074"/><stop offset="0.667" stop-color="#8b0074"/><stop offset="0.714" stop-color="#8a0075"/><stop offset="0.762" stop-color="#8a0075"/><stop offset="0.810" stop-color="#890076"/><stop offset="0.840" stop-color="#890076"/><stop offset="0.857" stop-color="#890076"/><stop offset="0.874" stop-color="#890076"/><stop offset="0.880" stop-color="#670098"/><stop offset="0.899" stop-color="#0000ff"/><stop offset="0.905" stop-color="#0000ff"/><stop offset="0.920" stop-color="#0000ff"/><stop offset="0.950" stop-color="#0000ff"/><stop offset="0.952" stop-color="#0000ff"/><stop offset="0.968" stop-color="#0000ff"/><stop offset="0.980" stop-color="#5d5da2"/><stop offset="0.987" stop-color="#999966"/><stop offset="1.000" stop-color="#ffff00"/></linearGradient><linearGradient id="b26" x1="0" y1="0" x2="0" y2="1"><stop offset="0.000" stop-color="#8d0072"/><stop offset="0.048" stop-color="#8c0073"/><stop offset="0.095" stop-color="#8c0073"/><stop offset="0.143" stop-color="#8c0073"/><stop offset="0.190" stop-color="#8b0074"/><stop offset="0.238" stop-color="#8b0074"/><stop offset="0.286" stop-color="#8a0075"/><stop offset="0.333" stop-color="#8a0075"/><stop offset="0.381" stop-color="#890076"/><stop offset="0.429" stop-color="#890076"/><stop offset="0.476" stop-color="#880077"/><stop offset="0.524" stop-color="#880077"/><stop offset="0.571" stop-color="#870078"/><stop offset="0.619" stop-color="#870078"/><stop offset="0.667" stop-color="#860079"/><stop offset="0.714" stop-color="#860079"/><stop offset="0.762" stop-color="#85007a"/><stop offset="0.810" stop-color="#85007a"/><stop offset="0.840" stop-color="#85007a"/><stop offset="0.857" stop-color="#85007a"/><stop offset="0.863" stop-color="#85007a"/><stop offset="0.880" stop-color="#3300cc"/><stop offset="0.891" stop-color="#0000ff"/><stop offset="0.905" stop-color="#0000ff"/><stop offset="0.920" stop-color="#0000ff"/><stop offset="0.950" stop-color="#0000ff"/><stop offset="0.952" stop-color="#0000ff"/><stop offset="0.966" stop-color="#0000ff"/><stop offset="0.980" stop-color="#6a6a95"/><stop offset="0.986" stop-color="#999966"/><stop offset="1.000" stop-color="#ffff00"/></linearGradient><linearGradient id="b27" x1="0" y1="0" x2="0" y2="1"><stop offset="0.000" stop-color="#880077"/><stop offset="0.048" stop-color="#870078"/><stop offset="0.095" stop-color="#870078"/><stop offset="0.143" stop-color="#860079"/><stop offset="0.190" stop-color="#860079"/><stop offset="0.238" stop-color="#85007a"/><stop offset="0.286" stop-color="#85007a"/><stop offset="0.333" stop-color="#85007a"/><stop offset="0.381" stop-color="#84007b"/><stop offset="0.429" stop-color="#84007b"/><stop offset="0.476" stop-color="#83007c"/><stop offset="0.524" stop-color="#83007c"/><stop offset="0.571" stop-color="#82007d"/><stop offset="0.619" stop-color="#82007d"/><stop offset="0.667" stop-color="#82007d"/><stop offset="0.714" stop-color="#81007e"/><stop offset="0.762" stop-color="#81007e"/><stop offset="0.810" stop-color="#80007f"/><stop offset="0.840" stop-color="#80007f"/><stop offset="0.851" stop-color="#80007f"/><stop offset="0.857" stop-color="#64009b"/><stop offset="0.880" stop-color="#0200fd"/><stop offset="0.881" stop-color="#0000ff"/><stop offset="0.905" stop-color="#0000ff"/><stop offset="0.920" stop-color="#0000ff"/><stop offset="0.950" stop-color="#0000ff"/><stop offset="0.952" stop-color="#0000ff"/><stop offset="0.963" stop-color="#0000ff"/><stop offset="0.980" stop-color="#767689"/><stop offset="0.985" stop-color="#999966"/><stop offset="1.000" stop-color="#ffff00"/></linearGradient><linearGradient id="b28" x1="0" y1="0" x2="0" y2="1"><stop offset="0.000" stop-color="#82007d"/><stop offset="0.048" stop-color="#81007e"/><stop offset="0.095" stop-color="#81007e"/><stop offset="0.143" stop-color="#81007e"/><stop offset="0.190" stop-color="#80007f"/><stop offset="0.238" stop-color="#80007f"/><stop offset="0.286" stop-color="#7f0080"/><stop offset="0.333" stop-color="#7f0080"/><stop offset="0.381" stop-color="#7f0080"/><stop offset="0.429" stop-color="#7e0081"/><stop offset="0.476" stop-color="#7e0081"/><stop offset="0.524" stop-color="#7d0082"/><stop offset="0.571" stop-color="#7d0082"/><stop offset="0.619" stop-color="#7d0082"/><stop offset="0.667" stop-color="#7c0083"/><stop offset="0.714" stop-color="#7c0083"/><stop offset="0.762" stop-color="#7c0083"/><stop offset="0.810" stop-color="#7b0084"/><stop offset="0.836" stop-color="#7b0084"/><stop offset="0.840" stop-color="#6b0094"/><stop offset="0.857" stop-color="#2a00d5"/><stop offset="0.869" stop-color="#0000ff"/><stop offset="0.880" stop-color="#0000ff"/><stop offset="0.905" stop-color="#0000ff"/><stop offset="0.920" stop-color="#0000ff"/><stop offset="0.950" stop-color="#0000ff"/><stop offset="0.952" stop-color="#0000ff"/><stop offset="0.959" stop-color="#0000ff"/><stop offset="0.980" stop-color="#83837c"/><stop offset="0.984" stop-color="#999966"/><stop offset="1.000" stop-color="#ffff00"/></linearGradient><linearGradient id="b29" x1="0" y1="0" x2="0" y2="1"><stop offset="0.000" stop-color="#7c0083"/><stop offset="0.048" stop-color="#7c0083"/><stop offset="0.095" stop-color="#7b0084"/><stop offset="0.143" stop-color="#7b0084"/><stop offset="0.190" stop-color="#7a0085"/><stop offset="0.238" stop-color="#7a0085"/><stop offset="0.286" stop-color="#7a0085"/><stop offset="0.333" stop-color="#790086"/><stop offset="0.381" stop-color="#790086"/><stop offset="0.429" stop-color="#790086"/><stop offset="0.476" stop-color="#780087"/><stop offset="0.524" stop-color="#780087"/><stop offset="0.571" stop-color="#780087"/><stop offset="0.619" stop-color="#770088"/><stop offset="0.667" stop-color="#770088"/><stop offset="0.714" stop-color="#770088"/><stop offset="0.762" stop-color="#760089"/><stop offset="0.810" stop-color="#760089"/><stop offset="0.824" stop-color="#760089"/><stop offset="0.840" stop-color="#3f00c0"/><stop offset="0.857" stop-color="#0600f9"/><stop offset="0.859" stop-color="#0000ff"/><stop offset="0.880" stop-color="#0000ff"/><stop offset="0.905" stop-color="#0000ff"/><stop offset="0.920" stop-color="#0000ff"/><stop offset="0.950" stop-color="#0000ff"/><stop offset="0.952" stop-color="#0000ff"/><stop offset="0.956" stop-color="#0000ff"/><stop offset="0.980" stop-color="#8b8b74"/><stop offset="0.982" stop-color="#999966"/><stop offset="1.000" stop-color="#ffff00"/></linearGradient><linearGradient id="b30" x1="0" y1="0" x2="0" y2="1"><stop offset="0.000" stop-color="#760089"/><stop offset="0.048" stop-color="#75008a"/><stop offset="0.095" stop-color="#75008a"/><stop offset="0.143" stop-color="#75008a"/><stop offset="0.190" stop-color="#74008b"/><stop offset="0.238" stop-color="#74008b"/><stop offset="0.286" stop-color="#74008b"/><stop offset="0.333" stop-color="#73008c"/><stop offset="0.381" stop-color="#73008c"/><stop offset="0.429" stop-color="#73008c"/><stop offset="0.476" stop-color="#72008d"/><stop offset="0.524" stop-color="#72008d"/><stop offset="0.571" stop-color="#72008d"/><stop offset="0.619" stop-color="#71008e"/><stop offset="0.667" stop-color="#71008e"/><stop offset="0.714" stop-color="#71008e"/><stop offset="0.762" stop-color="#70008f"/><stop offset="0.810" stop-color="#70008f"/><stop offset="0.840" stop-color="#1600e9"/><stop offset="0.848" stop-color="#0000ff"/><stop offset="0.857" stop-color="#0000ff"/><stop offset="0.880" stop-color="#0000ff"/><stop offset="0.905" stop-color="#0000ff"/><stop offset="0.920" stop-color="#0000ff"/><stop offset="0.950" stop-color="#0000ff"/><stop offset="0.952" stop-color="#0000ff"/><stop offset="0.952" stop-color="#0000ff"/><stop offset="0.980" stop-color="#94946b"/><stop offset="0.981" stop-color="#999966"/><stop offset="1.000" stop-color="#ffff00"/></linearGradient><linearGradient id="b31" x1="0" y1="0" x2="0" y2="1"><stop offset="0.000" stop-color="#6f0090"/><stop offset="0.048" stop-color="#6f0090"/><stop offset="0.095" stop-color="#6f0090"/><stop offset="0.143" stop-color="#6e0091"/><stop offset="0.190" stop-color="#6e0091"/><stop offset="0.238" stop-color="#6e0091"/><stop offset="0.286" stop-color="#6d0092"/><stop offset="0.333" stop-color="#6d0092"/><stop offset="0.381" stop-color="#6d0092"/><stop offset="0.429" stop-color="#6c0093"/><stop offset="0.476" stop-color="#6c0093"/><stop offset="0.524" stop-color="#6c0093"/><stop offset="0.571" stop-color="#6c0093"/><stop offset="0.619" stop-color="#6b0094"/><stop offset="0.667" stop-color="#6b0094"/><stop offset="0.714" stop-color="#6b0094"/><stop offset="0.762" stop-color="#6a0095"/><stop offset="0.791" stop-color="#6a0095"/><stop offset="0.810" stop-color="#3b00c4"/><stop offset="0.833" stop-color="#0000ff"/><stop offset="0.840" stop-color="#0000ff"/><stop offset="0.857" stop-color="#0000ff"/><stop offset="0.880" stop-color="#0000ff"/><stop offset="0.905" stop-color="#0000ff"/><stop offset="0.920" stop-color="#0000ff"/><stop offset="0.948" stop-color="#0000ff"/><stop offset="0.950" stop-color="#0b0bf4"/><stop offset="0.952" stop-color="#1717e8"/><stop offset="0.979" stop-color="#999966"/><stop offset="0.980" stop-color="#9d9d62"/><stop offset="1.000" stop-color="#ffff00"/></linearGradient><linearGradient id="b32" x1="0" y1="0" x2="0" y2="1"><stop offset="0.000" stop-color="#680097"/><stop offset="0.048" stop-color="#680097"/><stop offset="0.095" stop-color="#680097"/><stop offset="0.143" stop-color="#680097"/><stop offset="0.190" stop-color="#670098"/><stop offset="0.238" stop-color="#670098"/><stop offset="0.286" stop-color="#670098"/><stop offset="0.333" stop-color="#660099"/><stop offset="0.381" stop-color="#660099"/><stop offset="0.429" stop-color="#660099"/><stop offset="0.476" stop-color="#660099"/><stop offset="0.524" stop-color="#65009a"/><stop offset="0.571" stop-color="#65009a"/><stop offset="0.619" stop-color="#65009a"/><stop offset="0.667" stop-color="#64009b"/><stop offset="0.714" stop-color="#64009b"/><stop offset="0.762" stop-color="#64009b"/><stop offset="0.769" stop-color="#64009b"/><stop offset="0.810" stop-color="#0c00f3"/><stop offset="0.815" stop-color="#0000ff"/><stop offset="0.840" stop-color="#0000ff"/><stop offset="0.857" stop-color="#0000ff"/><stop offset="0.880" stop-color="#0000ff"/><stop offset="0.905" stop-color="#0000ff"/><stop offset="0.920" stop-color="#0000ff"/><stop offset="0.942" stop-color="#0000ff"/><stop offset="0.950" stop-color="#2323dc"/><stop offset="0.952" stop-color="#2d2dd2"/><stop offset="0.977" stop-color="#999966"/><stop offset="0.980" stop-color="#a7a758"/><stop offset="1.000" stop-color="#ffff00"/></linearGradient><linearGradient id="b33" x1="0" y1="0" x2="0" y2="1"><stop offset="0.000" stop-color="#61009e"/><stop offset="0.048" stop-color="#61009e"/><stop offset="0.095" stop-color="#61009e"/><stop offset="0.143" stop-color="#60009f"/><stop offset="0.190" stop-color="#60009f"/><stop offset="0.238" stop-color="#60009f"/><stop offset="0.286" stop-color="#60009f"/><stop offset="0.333" stop-color="#60009f"/><stop offset="0.381" stop-color="#5f00a0"/><stop offset="0.429" stop-color="#5f00a0"/><stop offset="0.476" stop-color="#5f00a0"/><stop offset="0.524" stop-color="#5f00a0"/><stop offset="0.571" stop-color="#5e00a1"/><stop offset="0.619" stop-color="#5e00a1"/><stop offset="0.667" stop-color="#5e00a1"/><stop offset="0.714" stop-color="#5e00a1"/><stop offset="0.725" stop-color="#5e00a1"/><stop offset="0.762" stop-color="#1e00e1"/><stop offset="0.780" stop-color="#0000ff"/><stop offset="0.810" stop-color="#0000ff"/><stop offset="0.840" stop-color="#0000ff"/><stop offset="0.857" stop-color="#0000ff"/><stop offset="0.880" stop-color="#0000ff"/><stop offset="0.905" stop-color="#0000ff"/><stop offset="0.920" stop-color="#0000ff"/><stop offset="0.931" stop-color="#0000ff"/><stop offset="0.950" stop-color="#4646b9"/><stop offset="0.952" stop-color="#4f4fb0"/><stop offset="0.972" stop-color="#999966"/><stop offset="0.980" stop-color="#b5b54a"/><stop offset="1.000" stop-color="#ffff00"/></linearGradient><linearGradient id="b34" x1="0" y1="0" x2="0" y2="1"><stop offset="0.000" stop-color="#5a00a5"/><stop offset="0.048" stop-color="#5900a6"/><stop offset="0.095" stop-color="#5900a6"/><stop offset="0.143" stop-color="#5900a6"/><stop offset="0.190" stop-color="#5900a6"/><stop offset="0.238" stop-color="#5900a6"/><stop offset="0.286" stop-color="#5800a7"/><stop offset="0.333" stop-color="#5800a7"/><stop offset="0.381" stop-color="#5800a7"/><stop offset="0.429" stop-color="#5800a7"/><stop offset="0.476" stop-color="#5800a7"/><stop offset="0.524" stop-color="#5800a7"/><stop offset="0.571" stop-color="#5700a8"/><stop offset="0.619" stop-color="#5700a8"/><stop offset="0.657" stop-color="#5700a8"/><stop offset="0.667" stop-color="#4b00b4"/><stop offset="0.714" stop-color="#0e00f1"/><stop offset="0.726" stop-color="#0000ff"/><stop offset="0.762" stop-color="#0000ff"/><stop offset="0.810" stop-color="#0000ff"/><stop offset="0.840" stop-color="#0000ff"/><stop offset="0.857" stop-color="#0000ff"/><stop offset="0.880" stop-color="#0000ff"/><stop offset="0.905" stop-color="#0000ff"/><stop offset="0.914" stop-color="#0000ff"/><stop offset="0.920" stop-color="#1111ee"/><stop offset="0.950" stop-color="#6a6a95"/><stop offset="0.952" stop-color="#71718e"/><stop offset="0.966" stop-color="#999966"/><stop offset="0.980" stop-color="#c4c43b"/><stop offset="1.000" stop-color="#ffff00"/></linearGradient><linearGradient id="b35" x1="0" y1="0" x2="0" y2="1"><stop offset="0.000" stop-color="#5100ae"/><stop offset="0.048" stop-color="#5100ae"/><stop offset="0.095" stop-color="#5100ae"/><stop offset="0.143" stop-color="#5100ae"/><stop offset="0.190" stop-color="#5100ae"/><stop offset="0.238" stop-color="#5100ae"/><stop offset="0.286" stop-color="#5100ae"/><stop offset="0.333" stop-color="#5000af"/><stop offset="0.381" stop-color="#5000af"/><stop offset="0.429" stop-color="#5000af"/><stop offset="0.476" stop-color="#5000af"/><stop offset="0.524" stop-color="#5000af"/><stop offset="0.538" stop-color="#5000af"/><stop offset="0.571" stop-color="#3300cc"/><stop offset="0.619" stop-color="#0a00f5"/><stop offset="0.631" stop-color="#0000ff"/><stop offset="0.667" stop-color="#0000ff"/><stop offset="0.714" stop-color="#0000ff"/><stop offset="0.762" stop-color="#0000ff"/><stop offset="0.810" stop-color="#0000ff"/><stop offset="0.840" stop-color="#0000ff"/><stop offset="0.857" stop-color="#0000ff"/><stop offset="0.880" stop-color="#0000ff"/><stop offset="0.885" stop-color="#0000ff"/><stop offset="0.905" stop-color="#2d2dd2"/><stop offset="0.920" stop-color="#4e4eb1"/><stop offset="0.950" stop-color="#90906f"/><stop offset="0.952" stop-color="#969669"/><stop offset="0.954" stop-color="#999966"/><stop offset="0.980" stop-color="#d3d32c"/><stop offset="1.000" stop-color="#ffff00"/></linearGradient><linearGradient id="b36" x1="0" y1="0" x2="0" y2="1"><stop offset="0.000" stop-color="#4900b6"/><stop offset="0.048" stop-color="#4900b6"/><stop offset="0.095" stop-color="#4900b6"/><stop offset="0.143" stop-color="#4900b6"/><stop offset="0.190" stop-color="#4800b7"/><stop offset="0.238" stop-color="#4800b7"/><stop offset="0.286" stop-color="#4800b7"/><stop offset="0.294" stop-color="#4800b7"/><stop offset="0.333" stop-color="#3400cb"/><stop offset="0.381" stop-color="#1c00e3"/><stop offset="0.429" stop-color="#0300fc"/><stop offset="0.435" stop-color="#0000ff"/><stop offset="0.476" stop-color="#0000ff"/><stop offset="0.524" stop-color="#0000ff"/><stop offset="0.571" stop-color="#0000ff"/><stop offset="0.619" stop-color="#0000ff"/><stop offset="0.667" stop-color="#0000ff"/><stop offset="0.714" stop-color="#0000ff"/><stop offset="0.762" stop-color="#0000ff"/><stop offset="0.810" stop-color="#0000ff"/><stop offset="0.824" stop-color="#0000ff"/><stop offset="0.840" stop-color="#1818e7"/><stop offset="0.857" stop-color="#3131ce"/><stop offset="0.880" stop-color="#5252ad"/><stop offset="0.905" stop-color="#75758a"/><stop offset="0.920" stop-color="#8b8b74"/><stop offset="0.929" stop-color="#999966"/><stop offset="0.950" stop-color="#b7b748"/><stop offset="0.952" stop-color="#baba45"/><stop offset="0.980" stop-color="#e2e21d"/><stop offset="1.000" stop-color="#ffff00"/></linearGradient></defs>
<g shape-rendering="crispEdges"><rect x="76.99" y="211.39" width="3.94" height="55.61" fill="#ffff00"/><rect x="76.99" y="70.58" width="3.94" height="141.11" fill="url(#a1)"/><rect x="80.88" y="211.03" width="3.94" height="55.97" fill="#ffff00"/><rect x="80.88" y="74.25" width="3.94" height="137.08" fill="url(#a2)"/><rect x="84.76" y="210.67" width="3.94" height="56.33" fill="#ffff00"/><rect x="84.76" y="77.46" width="3.94" height="133.52" fill="url(#a3)"/><rect x="88.65" y="210.32" width="3.94" height="56.68" fill="#ffff00"/><rect x="88.65" y="81.01" width="3.94" height="129.61" fill="url(#a4)"/><rect x="92.54" y="209.96" width="3.94" height="57.04" fill="#ffff00"/><rect x="92.54" y="83.42" width="3.94" height="126.84" fill="url(#a5)"/><rect x="96.43" y="209.60" width="3.94" height="57.40" fill="#ffff00"/><rect x="96.43" y="86.29" width="3.94" height="123.62" fill="url(#a6)"/><rect x="100.31" y="209.25" width="3.94" height="57.75" fill="#ffff00"/><rect x="100.31" y="88.92" width="3.94" height="120.62" fill="url(#a7)"/><rect x="104.20" y="208.89" width="3.94" height="58.11" fill="#ffff00"/><rect x="104.20" y="91.10" width="3.94" height="118.09" fill="url(#a8)"/><rect x="108.09" y="208.53" width="3.94" height="58.47" fill="#ffff00"/><rect x="108.09" y="93.51" width="3.94" height="115.32" fill="url(#a9)"/><rect x="111.98" y="208.18" width="3.94" height="58.82" fill="#ffff00"/><rect x="111.98" y="95.80" width="3.94" height="112.67" fill="url(#a10)"/><rect x="115.87" y="207.60" width="3.94" height="59.40" fill="#ffff00"/><rect x="115.87" y="98.10" width="3.94" height="109.81" fill="url(#a11)"/><rect x="119.75" y="207.03" width="3.94" height="59.97" fill="#ffff00"/><rect x="119.75" y="100.27" width="3.94" height="107.05" fill="url(#a12)"/><rect x="123.64" y="206.46" width="3.94" height="60.54" fill="#ffff00"/><rect x="123.64" y="102.68" width="3.94" height="104.07" fill="url(#a13)"/><rect x="127.53" y="205.88" width="3.94" height="61.12" fill="#ffff00"/><rect x="127.53" y="104.17" width="3.94" height="102.01" fill="url(#a14)"/><rect x="131.42" y="205.31" width="3.94" height="61.69" fill="#ffff00"/><rect x="131.42" y="106.12" width="3.94" height="99.49" fill="url(#a15)"/><rect x="135.30" y="204.46" width="3.94" height="62.54" fill="#ffff00"/><rect x="135.30" y="108.19" width="3.94" height="96.57" fill="url(#a16)"/><rect x="139.19" y="203.61" width="3.94" height="63.39" fill="#ffff00"/><rect x="139.19" y="109.82" width="3.94" height="94.09" fill="url(#a17)"/><rect x="143.08" y="202.76" width="3.94" height="64.24" fill="#ffff00"/><rect x="143.08" y="111.45" width="3.94" height="91.61" fill="url(#a18)"/><rect x="146.97" y="201.92" width="3.94" height="65.08" fill="#ffff00"/><rect x="146.97" y="113.09" width="3.94" height="89.13" fill="url(#a19)"/><rect x="150.86" y="201.07" width="3.94" height="65.93" fill="#ffff00"/><rect x="150.86" y="114.72" width="3.94" height="86.64" fill="url(#a20)"/><rect x="154.74" y="199.66" width="3.94" height="67.34" fill="#ffff00"/><rect x="154.74" y="116.20" width="3.94" height="83.76" fill="url(#a21)"/><rect x="158.63" y="198.25" width="3.94" height="68.75" fill="#ffff00"/><rect x="158.63" y="117.67" width="3.94" height="80.88" fill="url(#a22)"/><rect x="162.52" y="196.84" width="3.94" height="70.16" fill="#ffff00"/><rect x="162.52" y="119.15" width="3.94" height="77.99" fill="url(#a23)"/><rect x="166.41" y="195.60" width="3.94" height="71.40" fill="#ffff00"/><rect x="166.41" y="120.60" width="3.94" height="75.30" fill="url(#a24)"/><rect x="170.29" y="194.53" width="3.94" height="72.47" fill="#ffff00"/><rect x="170.29" y="122.04" width="3.94" height="72.79" fill="url(#a25)"/><rect x="174.18" y="192.97" width="3.94" height="74.03" fill="#ffff00"/><rect x="174.18" y="123.49" width="3.94" height="69.78" fill="url(#a26)"/><rect x="178.07" y="191.41" width="3.94" height="75.59" fill="#ffff00"/><rect x="178.07" y="124.93" width="3.94" height="66.78" fill="url(#a27)"/><rect x="181.96" y="189.85" width="3.94" height="77.15" fill="#ffff00"/><rect x="181.96" y="126.11" width="3.94" height="64.04" fill="url(#a28)"/><rect x="185.85" y="188.29" width="3.94" height="78.71" fill="#ffff00"/><rect x="185.85" y="127.30" width="3.94" height="61.30" fill="url(#a29)"/><rect x="189.73" y="186.73" width="3.94" height="80.27" fill="#ffff00"/><rect x="189.73" y="128.48" width="3.94" height="58.55" fill="url(#a30)"/><rect x="193.62" y="185.10" width="3.94" height="81.90" fill="#ffff00"/><rect x="193.62" y="129.29" width="3.94" height="56.11" fill="url(#a31)"/><rect x="197.51" y="183.46" width="3.94" height="83.54" fill="#ffff00"/><rect x="197.51" y="130.09" width="3.94" height="53.67" fill="url(#a32)"/><rect x="201.40" y="181.96" width="3.94" height="85.04" fill="#ffff00"/><rect x="201.40" y="130.93" width="3.94" height="51.33" fill="url(#a33)"/><rect x="205.28" y="180.41" width="3.94" height="86.59" fill="#ffff00"/><rect x="205.28" y="131.76" width="3.94" height="48.95" fill="url(#a34)"/><rect x="209.17" y="178.61" width="3.94" height="88.39" fill="#ffff00"/><rect x="209.17" y="132.60" width="3.94" height="46.31" fill="url(#a35)"/><rect x="213.06" y="176.82" width="3.94" height="90.18" fill="#ffff00"/><rect x="213.06" y="133.44" width="3.94" height="43.68" fill="url(#a36)"/><rect x="216.95" y="175.02" width="3.94" height="91.98" fill="#ffff00"/><rect x="216.95" y="134.28" width="3.94" height="41.04" fill="url(#a37)"/><rect x="220.84" y="173.20" width="3.94" height="93.80" fill="#ffff00"/><rect x="220.84" y="135.09" width="3.94" height="38.42" fill="url(#a38)"/><rect x="224.72" y="171.37" width="3.94" height="95.63" fill="#ffff00"/><rect x="224.72" y="135.81" width="3.94" height="35.85" fill="url(#a39)"/><rect x="228.61" y="169.53" width="3.94" height="97.47" fill="#ffff00"/><rect x="228.61" y="136.54" width="3.94" height="33.29" fill="url(#a40)"/><rect x="232.50" y="167.46" width="3.94" height="99.54" fill="#ffff00"/><rect x="232.50" y="137.27" width="3.94" height="30.49" fill="url(#a41)"/><rect x="236.39" y="164.66" width="3.94" height="102.34" fill="#ffff00"/><rect x="236.39" y="138.00" width="3.94" height="26.97" fill="url(#a42)"/><rect x="240.27" y="161.92" width="3.94" height="105.08" fill="#ffff00"/><rect x="240.27" y="138.72" width="3.94" height="23.50" fill="url(#a43)"/><rect x="244.16" y="159.42" width="3.94" height="107.58" fill="#ffff00"/><rect x="244.16" y="139.45" width="3.94" height="20.27" fill="url(#a44)"/><rect x="248.05" y="156.92" width="3.94" height="110.08" fill="#ffff00"/><rect x="248.05" y="140.18" width="3.94" height="17.04" fill="url(#a45)"/><rect x="251.94" y="155.20" width="3.94" height="111.80" fill="#ffff00"/><rect x="251.94" y="140.71" width="3.94" height="14.79" fill="url(#a46)"/><rect x="255.83" y="153.48" width="3.94" height="113.52" fill="#ffff00"/><rect x="255.83" y="141.25" width="3.94" height="12.53" fill="url(#a47)"/><rect x="259.71" y="151.19" width="3.94" height="115.81" fill="#ffff00"/><rect x="259.71" y="141.78" width="3.94" height="9.70" fill="url(#a48)"/><rect x="263.60" y="146.94" width="3.94" height="120.06" fill="#ffff00"/><rect x="263.60" y="142.36" width="3.94" height="4.89" fill="url(#a49)"/><rect x="267.49" y="142.93" width="3.94" height="124.07" fill="#ffff00"/><rect x="271.38" y="143.39" width="3.94" height="123.61" fill="#ffff00"/><rect x="275.26" y="143.85" width="3.94" height="123.15" fill="#ffff00"/><rect x="279.15" y="144.31" width="3.94" height="122.69" fill="#ffff00"/><rect x="283.04" y="144.77" width="3.94" height="122.23" fill="#ffff00"/><rect x="286.93" y="145.22" width="3.94" height="121.78" fill="#ffff00"/><rect x="290.82" y="146.03" width="3.94" height="120.97" fill="#ffff00"/><rect x="294.70" y="146.83" width="3.94" height="120.17" fill="#ffff00"/><rect x="298.59" y="147.63" width="3.94" height="119.37" fill="#ffff00"/><rect x="302.48" y="148.43" width="3.94" height="118.57" fill="#ffff00"/><rect x="306.37" y="149.24" width="3.94" height="117.76" fill="#ffff00"/><rect x="310.25" y="150.43" width="3.94" height="116.57" fill="#ffff00"/><rect x="314.14" y="151.61" width="3.94" height="115.39" fill="#ffff00"/><rect x="318.03" y="152.80" width="3.94" height="114.20" fill="#ffff00"/><rect x="321.92" y="153.99" width="3.94" height="113.01" fill="#ffff00"/><rect x="325.81" y="155.18" width="3.94" height="111.82" fill="#ffff00"/><rect x="329.69" y="156.59" width="3.94" height="110.41" fill="#ffff00"/><rect x="333.58" y="158.22" width="3.94" height="108.78" fill="#ffff00"/><rect x="337.47" y="159.85" width="3.94" height="107.15" fill="#ffff00"/><rect x="341.36" y="161.48" width="3.94" height="105.52" fill="#ffff00"/><rect x="345.24" y="163.11" width="3.94" height="103.89" fill="#ffff00"/><rect x="349.13" y="165.06" width="3.94" height="101.94" fill="#ffff00"/><rect x="353.02" y="167.01" width="3.94" height="99.99" fill="#ffff00"/><rect x="356.91" y="168.96" width="3.94" height="98.04" fill="#ffff00"/><rect x="360.80" y="170.91" width="3.94" height="96.09" fill="#ffff00"/><rect x="364.68" y="172.86" width="3.94" height="94.14" fill="#ffff00"/><rect x="368.57" y="176.16" width="3.94" height="90.84" fill="#ffff00"/><rect x="372.46" y="179.46" width="3.94" height="87.54" fill="#ffff00"/><rect x="376.35" y="182.77" width="3.94" height="84.23" fill="#ffff00"/><rect x="380.23" y="186.07" width="3.94" height="80.93" fill="#ffff00"/><rect x="384.12" y="189.37" width="3.94" height="77.63" fill="#ffff00"/><rect x="388.01" y="194.16" width="3.94" height="72.84" fill="#ffff00"/><rect x="391.90" y="198.95" width="3.94" height="68.05" fill="#ffff00"/><rect x="395.79" y="203.73" width="3.94" height="63.27" fill="#ffff00"/><rect x="399.67" y="208.52" width="3.94" height="58.48" fill="#ffff00"/><rect x="403.56" y="213.22" width="3.94" height="53.78" fill="#ffff00"/><rect x="407.45" y="220.22" width="3.94" height="46.78" fill="#ffff00"/><rect x="411.34" y="226.87" width="3.94" height="40.13" fill="#ffff00"/><rect x="415.22" y="236.15" width="3.94" height="30.85" fill="#ffff00"/><rect x="419.11" y="250.49" width="3.94" height="16.51" fill="#ffff00"/><rect x="76.99" y="455.21" width="3.94" height="135.09" fill="#ffff00"/><rect x="76.99" y="402.81" width="3.94" height="52.70" fill="url(#b1)"/><rect x="80.88" y="455.21" width="3.94" height="135.09" fill="#ffff00"/><rect x="80.88" y="405.70" width="3.94" height="49.81" fill="url(#b2)"/><rect x="84.76" y="453.32" width="3.94" height="136.98" fill="#ffff00"/><rect x="84.76" y="408.71" width="3.94" height="44.90" fill="url(#b3)"/><rect x="88.65" y="453.43" width="3.94" height="136.87" fill="#ffff00"/><rect x="88.65" y="411.73" width="3.94" height="42.01" fill="url(#b4)"/><rect x="92.54" y="453.55" width="3.94" height="136.75" fill="#ffff00"/><rect x="92.54" y="414.61" width="3.94" height="39.24" fill="url(#b5)"/><rect x="96.43" y="453.67" width="3.94" height="136.63" fill="#ffff00"/><rect x="96.43" y="417.21" width="3.94" height="36.76" fill="url(#b6)"/><rect x="100.31" y="453.79" width="3.94" height="136.51" fill="#ffff00"/><rect x="100.31" y="419.85" width="3.94" height="34.23" fill="url(#b7)"/><rect x="104.20" y="453.91" width="3.94" height="136.39" fill="#ffff00"/><rect x="104.20" y="422.04" width="3.94" height="32.16" fill="url(#b8)"/><rect x="108.09" y="454.02" width="3.94" height="136.28" fill="#ffff00"/><rect x="108.09" y="424.02" width="3.94" height="30.30" fill="url(#b9)"/><rect x="111.98" y="454.14" width="3.94" height="136.16" fill="#ffff00"/><rect x="111.98" y="426.37" width="3.94" height="28.07" fill="url(#b10)"/><rect x="115.87" y="454.47" width="3.94" height="135.83" fill="#ffff00"/><rect x="115.87" y="428.56" width="3.94" height="26.21" fill="url(#b11)"/><rect x="119.75" y="454.80" width="3.94" height="135.50" fill="#ffff00"/><rect x="119.75" y="430.54" width="3.94" height="24.56" fill="url(#b12)"/><rect x="123.64" y="455.13" width="3.94" height="135.17" fill="#ffff00"/><rect x="123.64" y="432.89" width="3.94" height="22.53" fill="url(#b13)"/><rect x="127.53" y="455.46" width="3.94" height="134.84" fill="#ffff00"/><rect x="127.53" y="434.83" width="3.94" height="20.92" fill="url(#b14)"/><rect x="131.42" y="455.80" width="3.94" height="134.50" fill="#ffff00"/><rect x="131.42" y="436.81" width="3.94" height="19.29" fill="url(#b15)"/><rect x="135.30" y="456.17" width="3.94" height="134.13" fill="#ffff00"/><rect x="135.30" y="439.04" width="3.94" height="17.43" fill="url(#b16)"/><rect x="139.19" y="456.54" width="3.94" height="133.76" fill="#ffff00"/><rect x="139.19" y="440.44" width="3.94" height="16.39" fill="url(#b17)"/><rect x="143.08" y="456.91" width="3.94" height="133.39" fill="#ffff00"/><rect x="143.08" y="441.85" width="3.94" height="15.36" fill="url(#b18)"/><rect x="146.97" y="457.28" width="3.94" height="133.02" fill="#ffff00"/><rect x="146.97" y="443.25" width="3.94" height="14.33" fill="url(#b19)"/><rect x="150.86" y="457.65" width="3.94" height="132.65" fill="#ffff00"/><rect x="150.86" y="444.84" width="3.94" height="13.10" fill="url(#b20)"/><rect x="154.74" y="458.09" width="3.94" height="132.21" fill="#ffff00"/><rect x="154.74" y="446.44" width="3.94" height="11.95" fill="url(#b21)"/><rect x="158.63" y="458.53" width="3.94" height="131.77" fill="#ffff00"/><rect x="158.63" y="448.04" width="3.94" height="10.80" fill="url(#b22)"/><rect x="162.52" y="458.97" width="3.94" height="131.33" fill="#ffff00"/><rect x="162.52" y="449.63" width="3.94" height="9.64" fill="url(#b23)"/><rect x="166.41" y="459.47" width="3.94" height="130.83" fill="#ffff00"/><rect x="166.41" y="451.01" width="3.94" height="8.76" fill="url(#b24)"/><rect x="170.29" y="460.02" width="3.94" height="130.28" fill="#ffff00"/><rect x="170.29" y="452.18" width="3.94" height="8.15" fill="url(#b25)"/><rect x="174.18" y="460.58" width="3.94" height="129.72" fill="#ffff00"/><rect x="174.18" y="453.34" width="3.94" height="7.54" fill="url(#b26)"/><rect x="178.07" y="461.14" width="3.94" height="129.16" fill="#ffff00"/><rect x="178.07" y="454.50" width="3.94" height="6.93" fill="url(#b27)"/><rect x="181.96" y="461.69" width="3.94" height="128.61" fill="#ffff00"/><rect x="181.96" y="455.67" width="3.94" height="6.32" fill="url(#b28)"/><rect x="185.85" y="462.25" width="3.94" height="128.05" fill="#ffff00"/><rect x="185.85" y="456.64" width="3.94" height="5.91" fill="url(#b29)"/><rect x="189.73" y="462.81" width="3.94" height="127.49" fill="#ffff00"/><rect x="189.73" y="457.61" width="3.94" height="5.50" fill="url(#b30)"/><rect x="193.62" y="463.34" width="3.94" height="126.96" fill="#ffff00"/><rect x="193.62" y="458.60" width="3.94" height="5.04" fill="url(#b31)"/><rect x="197.51" y="463.87" width="3.94" height="126.43" fill="#ffff00"/><rect x="197.51" y="459.59" width="3.94" height="4.58" fill="url(#b32)"/><rect x="201.40" y="464.17" width="3.94" height="126.13" fill="#ffff00"/><rect x="201.40" y="460.58" width="3.94" height="3.90" fill="url(#b33)"/><rect x="205.28" y="464.46" width="3.94" height="125.84" fill="#ffff00"/><rect x="205.28" y="461.57" width="3.94" height="3.19" fill="url(#b34)"/><rect x="209.17" y="464.95" width="3.94" height="125.35" fill="#ffff00"/><rect x="209.17" y="462.81" width="3.94" height="2.45" fill="url(#b35)"/><rect x="213.06" y="465.45" width="3.94" height="124.85" fill="#ffff00"/><rect x="213.06" y="464.04" width="3.94" height="1.70" fill="url(#b36)"/><rect x="216.95" y="466.09" width="3.94" height="124.21" fill="#ffff00"/><rect x="220.84" y="466.73" width="3.94" height="123.57" fill="#ffff00"/><rect x="224.72" y="467.15" width="3.94" height="123.15" fill="#ffff00"/><rect x="228.61" y="467.57" width="3.94" height="122.73" fill="#ffff00"/><rect x="232.50" y="467.99" width="3.94" height="122.31" fill="#ffff00"/><rect x="236.39" y="468.41" width="3.94" height="121.89" fill="#ffff00"/><rect x="240.27" y="468.83" width="3.94" height="121.47" fill="#ffff00"/><rect x="244.16" y="469.25" width="3.94" height="121.05" fill="#ffff00"/><rect x="248.05" y="469.67" width="3.94" height="120.63" fill="#ffff00"/><rect x="251.94" y="470.03" width="3.94" height="120.27" fill="#ffff00"/><rect x="255.83" y="470.34" width="3.94" height="119.96" fill="#ffff00"/><rect x="259.71" y="470.65" width="3.94" height="119.65" fill="#ffff00"/><rect x="263.60" y="470.96" width="3.94" height="119.34" fill="#ffff00"/><rect x="267.49" y="471.27" width="3.94" height="119.03" fill="#ffff00"/><rect x="271.38" y="471.79" width="3.94" height="118.51" fill="#ffff00"/><rect x="275.26" y="472.38" width="3.94" height="117.92" fill="#ffff00"/><rect x="279.15" y="472.97" width="3.94" height="117.33" fill="#ffff00"/><rect x="283.04" y="473.56" width="3.94" height="116.74" fill="#ffff00"/><rect x="286.93" y="474.15" width="3.94" height="116.15" fill="#ffff00"/><rect x="290.82" y="474.98" width="3.94" height="115.32" fill="#ffff00"/><rect x="294.70" y="475.80" width="3.94" height="114.50" fill="#ffff00"/><rect x="298.59" y="476.63" width="3.94" height="113.67" fill="#ffff00"/><rect x="302.48" y="477.45" width="3.94" height="112.85" fill="#ffff00"/><rect x="306.37" y="478.28" width="3.94" height="112.02" fill="#ffff00"/><rect x="310.25" y="479.49" width="3.94" height="110.81" fill="#ffff00"/><rect x="314.14" y="480.69" width="3.94" height="109.61" fill="#ffff00"/><rect x="318.03" y="481.90" width="3.94" height="108.40" fill="#ffff00"/><rect x="321.92" y="483.11" width="3.94" height="107.19" fill="#ffff00"/><rect x="325.81" y="484.37" width="3.94" height="105.93" fill="#ffff00"/><rect x="329.69" y="485.72" width="3.94" height="104.58" fill="#ffff00"/><rect x="333.58" y="487.08" width="3.94" height="103.22" fill="#ffff00"/><rect x="337.47" y="488.44" width="3.94" height="101.86" fill="#ffff00"/><rect x="341.36" y="489.80" width="3.94" height="100.50" fill="#ffff00"/><rect x="345.24" y="491.20" width="3.94" height="99.10" fill="#ffff00"/><rect x="349.13" y="492.63" width="3.94" height="97.67" fill="#ffff00"/><rect x="353.02" y="494.56" width="3.94" height="95.74" fill="#ffff00"/><rect x="356.91" y="496.57" width="3.94" height="93.73" fill="#ffff00"/><rect x="360.80" y="498.59" width="3.94" height="91.71" fill="#ffff00"/><rect x="364.68" y="500.60" width="3.94" height="89.70" fill="#ffff00"/><rect x="368.57" y="504.07" width="3.94" height="86.23" fill="#ffff00"/><rect x="372.46" y="507.55" width="3.94" height="82.75" fill="#ffff00"/><rect x="376.35" y="511.02" width="3.94" height="79.28" fill="#ffff00"/><rect x="380.23" y="514.50" width="3.94" height="75.80" fill="#ffff00"/><rect x="384.12" y="517.97" width="3.94" height="72.33" fill="#ffff00"/><rect x="388.01" y="521.87" width="3.94" height="68.43" fill="#ffff00"/><rect x="391.90" y="525.77" width="3.94" height="64.53" fill="#ffff00"/><rect x="395.79" y="529.67" width="3.94" height="60.63" fill="#ffff00"/><rect x="399.67" y="533.57" width="3.94" height="56.73" fill="#ffff00"/><rect x="403.56" y="538.72" width="3.94" height="51.58" fill="#ffff00"/><rect x="407.45" y="544.21" width="3.94" height="46.09" fill="#ffff00"/><rect x="411.34" y="551.52" width="3.94" height="38.78" fill="#ffff00"/><rect x="415.22" y="560.72" width="3.94" height="29.58" fill="#ffff00"/><rect x="419.11" y="574.83" width="3.94" height="15.47" fill="#ffff00"/></g>
<g fill="#000" class="t"><rect x="432.0" y="60.6" width="17.30000000000001" height="206.4" fill="url(#cbg)"/><rect x="432.0" y="60.6" width="17.30000000000001" height="206.4" fill="none" stroke="#222" stroke-width="1.1"/><path d="M432.0 237.50h4M449.3 237.50h-4" stroke="#000" stroke-width="1"/><path d="M432.0 208.50h4M449.3 208.50h-4" stroke="#000" stroke-width="1"/><path d="M432.0 178.50h4M449.3 178.50h-4" stroke="#000" stroke-width="1"/><path d="M432.0 149.50h4M449.3 149.50h-4" stroke="#000" stroke-width="1"/><path d="M432.0 119.50h4M449.3 119.50h-4" stroke="#000" stroke-width="1"/><path d="M432.0 90.50h4M449.3 90.50h-4" stroke="#000" stroke-width="1"/><text x="464.5" y="273.00" font-size="17.3">0</text><text x="464.5" y="243.51" font-size="17.3">0.002</text><text x="464.5" y="214.03" font-size="17.3">0.004</text><text x="464.5" y="184.54" font-size="17.3">0.006</text><text x="464.5" y="155.06" font-size="17.3">0.008</text><text x="464.5" y="125.57" font-size="17.3">0.01</text><text x="464.5" y="96.09" font-size="17.3">0.012</text><text x="464.5" y="66.60" font-size="17.3">0.014</text><rect x="73.1" y="60.6" width="349.9" height="206.4" fill="none" stroke="#1a1a1a" stroke-width="1.35"/><text x="75.60" y="296.30" font-size="17.4" text-anchor="middle">0</text><text x="114.48" y="296.30" font-size="17.4" text-anchor="middle">0.2</text><text x="153.36" y="296.30" font-size="17.4" text-anchor="middle">0.4</text><text x="192.23" y="296.30" font-size="17.4" text-anchor="middle">0.6</text><text x="231.11" y="296.30" font-size="17.4" text-anchor="middle">0.8</text><text x="269.99" y="296.30" font-size="17.4" text-anchor="middle">1</text><text x="308.87" y="296.30" font-size="17.4" text-anchor="middle">1.2</text><text x="347.74" y="296.30" font-size="17.4" text-anchor="middle">1.4</text><text x="386.62" y="296.30" font-size="17.4" text-anchor="middle">1.6</text><text x="425.50" y="296.30" font-size="17.4" text-anchor="middle">1.8</text><text x="60" y="272.90" font-size="17.4" text-anchor="end">0</text><text x="60" y="249.97" font-size="17.4" text-anchor="end">2</text><text x="60" y="227.03" font-size="17.4" text-anchor="end">4</text><text x="60" y="204.10" font-size="17.4" text-anchor="end">6</text><text x="60" y="181.17" font-size="17.4" text-anchor="end">8</text><text x="60" y="158.23" font-size="17.4" text-anchor="end">10</text><text x="60" y="135.30" font-size="17.4" text-anchor="end">12</text><text x="60" y="112.37" font-size="17.4" text-anchor="end">14</text><text x="60" y="89.43" font-size="17.4" text-anchor="end">16</text><text x="60" y="66.50" font-size="17.4" text-anchor="end">18</text><path d="M73.10 267.0v-6.5M73.10 60.6v6.5M111.98 267.0v-6.5M111.98 60.6v6.5M150.86 267.0v-6.5M150.86 60.6v6.5M189.73 267.0v-6.5M189.73 60.6v6.5M228.61 267.0v-6.5M228.61 60.6v6.5M267.49 267.0v-6.5M267.49 60.6v6.5M306.37 267.0v-6.5M306.37 60.6v6.5M345.24 267.0v-6.5M345.24 60.6v6.5M384.12 267.0v-6.5M384.12 60.6v6.5M423.00 267.0v-6.5M423.00 60.6v6.5M73.1 267.00h6.5M423.0 267.00h-6.5M73.1 244.07h6.5M423.0 244.07h-6.5M73.1 221.13h6.5M423.0 221.13h-6.5M73.1 198.20h6.5M423.0 198.20h-6.5M73.1 175.27h6.5M423.0 175.27h-6.5M73.1 152.33h6.5M423.0 152.33h-6.5M73.1 129.40h6.5M423.0 129.40h-6.5M73.1 106.47h6.5M423.0 106.47h-6.5M73.1 83.53h6.5M423.0 83.53h-6.5M73.1 60.60h6.5M423.0 60.60h-6.5" stroke="#000" stroke-width="1" fill="none"/><text x="248.3" y="40.90" font-size="18.85" text-anchor="middle">Phase Diagram: SDM, s<tspan dy="1.7">−</tspan><tspan dy="-1.7">wave</tspan></text><text x="467" y="47.60" font-size="17.6" text-anchor="middle">Momentum (1/Å)</text><text x="247.9" y="321.20" font-size="17.7" text-anchor="middle">Temperature (K)</text><text transform="translate(29.3,163.80) rotate(-90)" font-size="17.55" text-anchor="middle">Magnetic field (T)</text><rect x="432.0" y="384.0" width="17.30000000000001" height="206.29999999999995" fill="url(#cbg)"/><rect x="432.0" y="384.0" width="17.30000000000001" height="206.29999999999995" fill="none" stroke="#222" stroke-width="1.1"/><path d="M432.0 560.50h4M449.3 560.50h-4" stroke="#000" stroke-width="1"/><path d="M432.0 531.50h4M449.3 531.50h-4" stroke="#000" stroke-width="1"/><path d="M432.0 501.50h4M449.3 501.50h-4" stroke="#000" stroke-width="1"/><path d="M432.0 472.50h4M449.3 472.50h-4" stroke="#000" stroke-width="1"/><path d="M432.0 442.50h4M449.3 442.50h-4" stroke="#000" stroke-width="1"/><path d="M432.0 413.50h4M449.3 413.50h-4" stroke="#000" stroke-width="1"/><text x="464.5" y="596.30" font-size="17.3">0</text><text x="464.5" y="566.83" font-size="17.3">0.002</text><text x="464.5" y="537.36" font-size="17.3">0.004</text><text x="464.5" y="507.89" font-size="17.3">0.006</text><text x="464.5" y="478.41" font-size="17.3">0.008</text><text x="464.5" y="448.94" font-size="17.3">0.01</text><text x="464.5" y="419.47" font-size="17.3">0.012</text><text x="464.5" y="390.00" font-size="17.3">0.014</text><rect x="73.1" y="384.0" width="349.9" height="206.29999999999995" fill="none" stroke="#1a1a1a" stroke-width="1.35"/><text x="75.60" y="619.60" font-size="17.4" text-anchor="middle">0</text><text x="114.48" y="619.60" font-size="17.4" text-anchor="middle">0.2</text><text x="153.36" y="619.60" font-size="17.4" text-anchor="middle">0.4</text><text x="192.23" y="619.60" font-size="17.4" text-anchor="middle">0.6</text><text x="231.11" y="619.60" font-size="17.4" text-anchor="middle">0.8</text><text x="269.99" y="619.60" font-size="17.4" text-anchor="middle">1</text><text x="308.87" y="619.60" font-size="17.4" text-anchor="middle">1.2</text><text x="347.74" y="619.60" font-size="17.4" text-anchor="middle">1.4</text><text x="386.62" y="619.60" font-size="17.4" text-anchor="middle">1.6</text><text x="425.50" y="619.60" font-size="17.4" text-anchor="middle">1.8</text><text x="60" y="595.80" font-size="17.4" text-anchor="end">0</text><text x="60" y="575.17" font-size="17.4" text-anchor="end">0.5</text><text x="60" y="554.54" font-size="17.4" text-anchor="end">1</text><text x="60" y="533.91" font-size="17.4" text-anchor="end">1.5</text><text x="60" y="513.28" font-size="17.4" text-anchor="end">2</text><text x="60" y="492.65" font-size="17.4" text-anchor="end">2.5</text><text x="60" y="472.02" font-size="17.4" text-anchor="end">3</text><text x="60" y="451.39" font-size="17.4" text-anchor="end">3.5</text><text x="60" y="430.76" font-size="17.4" text-anchor="end">4</text><text x="60" y="410.13" font-size="17.4" text-anchor="end">4.5</text><text x="60" y="389.50" font-size="17.4" text-anchor="end">5</text><path d="M73.10 590.3v-6.5M73.10 384.0v6.5M111.98 590.3v-6.5M111.98 384.0v6.5M150.86 590.3v-6.5M150.86 384.0v6.5M189.73 590.3v-6.5M189.73 384.0v6.5M228.61 590.3v-6.5M228.61 384.0v6.5M267.49 590.3v-6.5M267.49 384.0v6.5M306.37 590.3v-6.5M306.37 384.0v6.5M345.24 590.3v-6.5M345.24 384.0v6.5M384.12 590.3v-6.5M384.12 384.0v6.5M423.00 590.3v-6.5M423.00 384.0v6.5M73.1 590.30h6.5M423.0 590.30h-6.5M73.1 569.67h6.5M423.0 569.67h-6.5M73.1 549.04h6.5M423.0 549.04h-6.5M73.1 528.41h6.5M423.0 528.41h-6.5M73.1 507.78h6.5M423.0 507.78h-6.5M73.1 487.15h6.5M423.0 487.15h-6.5M73.1 466.52h6.5M423.0 466.52h-6.5M73.1 445.89h6.5M423.0 445.89h-6.5M73.1 425.26h6.5M423.0 425.26h-6.5M73.1 404.63h6.5M423.0 404.63h-6.5M73.1 384.00h6.5M423.0 384.00h-6.5" stroke="#000" stroke-width="1" fill="none"/><text x="248.3" y="364.30" font-size="18.85" text-anchor="middle">Phase Diagram: SIM, s<tspan dy="1.7">−</tspan><tspan dy="-1.7">wave</tspan></text><text x="467" y="371.00" font-size="17.6" text-anchor="middle">Momentum (1/Å)</text><text x="247.9" y="644.50" font-size="17.7" text-anchor="middle">Temperature (K)</text><text transform="translate(19.0,487.15) rotate(-90)" font-size="17.55" text-anchor="middle">Magnetic field (T)</text></g>
<g class="t"><text x="3" y="14.5" font-size="16">a)</text><text x="3" y="338" font-size="16">b)</text></g><text transform="translate(112.2 165.2) scale(1 1.06)" font-size="20.6" fill="#fff">FF</text><text transform="translate(267.2 227.8) scale(1 1.06)" font-size="20.6" fill="#ff00ff">BCS</text><text transform="translate(345.2 113.8) scale(1 1.06)" font-size="20.6" fill="#ff0000">NS</text><text transform="translate(121.8 431.8) scale(1 1.06)" font-size="20.6" fill="#000">FF</text><text transform="translate(228.4 535.5) scale(1 1.06)" font-size="20.6" fill="#ff00ff">BCS</text><text transform="translate(345.2 432.0) scale(1 1.06)" font-size="20.6" fill="#ff0000">NS</text>
</svg>
</body></html>
